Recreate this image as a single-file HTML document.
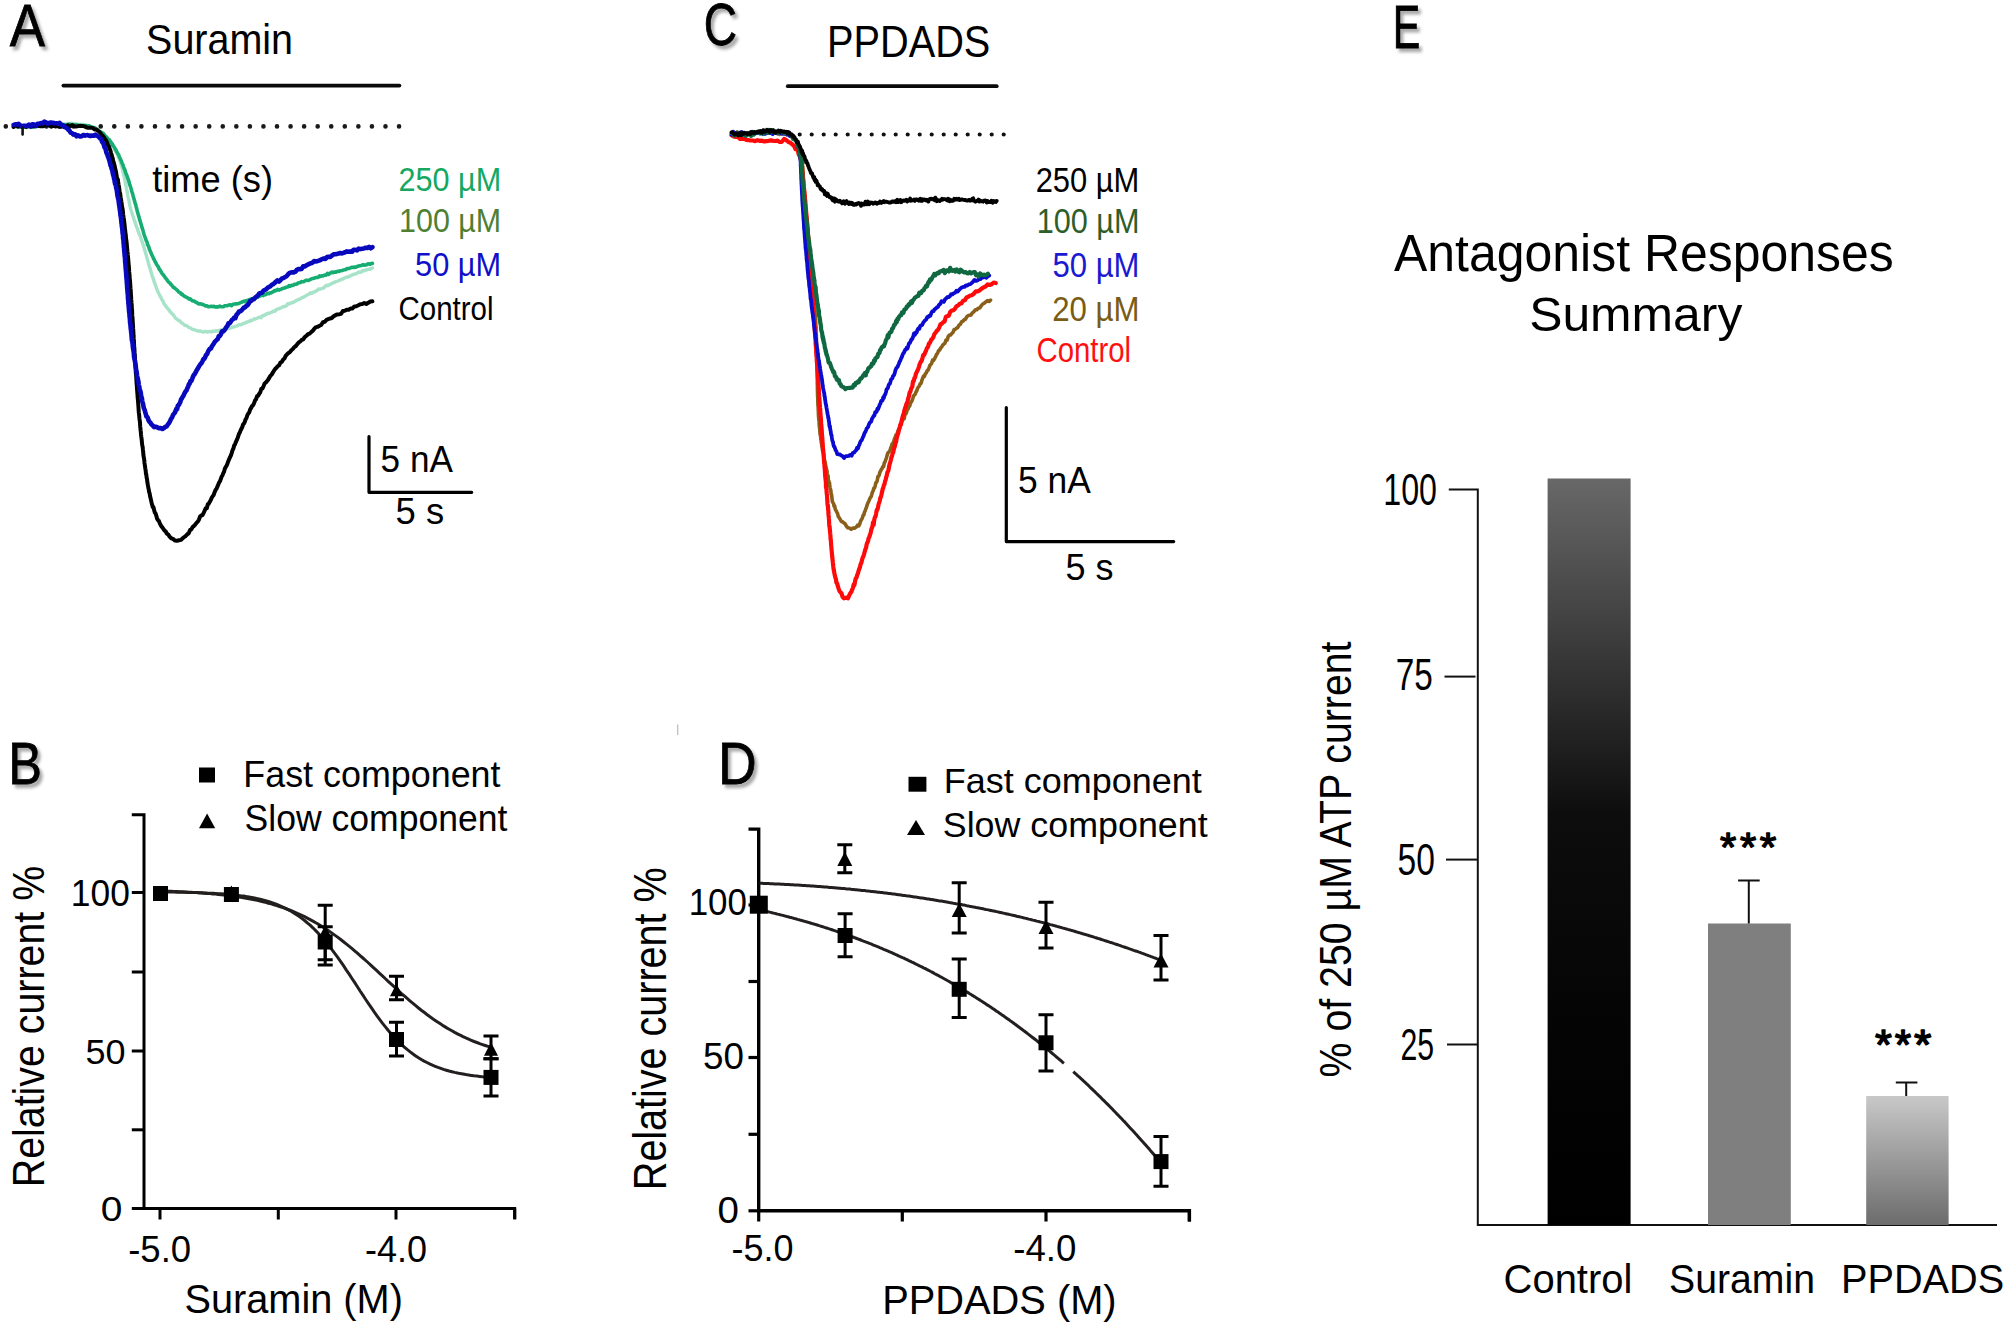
<!DOCTYPE html><html><head><meta charset="utf-8"><title>Antagonist responses figure</title>
<style>html,body{margin:0;padding:0;background:#fff;}svg{display:block;} text{font-family:"Liberation Sans", sans-serif;}</style></head><body>
<svg width="2007" height="1326" viewBox="0 0 2007 1326">
<defs><filter id="sh" x="-30%" y="-30%" width="160%" height="160%"><feDropShadow dx="3" dy="3.6" stdDeviation="1.6" flood-color="#000" flood-opacity="0.34"/></filter>
<linearGradient id="gc" x1="0" y1="0" x2="0" y2="1"><stop offset="0" stop-color="#686868"/><stop offset="0.45" stop-color="#0d0d0d"/><stop offset="0.7" stop-color="#050505"/><stop offset="1" stop-color="#000"/></linearGradient>
<linearGradient id="gp" x1="0" y1="0" x2="0" y2="1"><stop offset="0" stop-color="#c8c8c8"/><stop offset="1" stop-color="#6c6c6c"/></linearGradient>
</defs>
<rect width="2007" height="1326" fill="#fff"/>
<g filter="url(#sh)">
<text transform="translate(9.7,45.6) scale(0.8836,1)" font-size="59.74" fill="#000" stroke="#000" stroke-width="0.8">A</text>
</g>
<g filter="url(#sh)">
<text transform="translate(8.35,783.6) scale(0.8523,1)" font-size="59.3" fill="#000" stroke="#000" stroke-width="0.8">B</text>
</g>
<g filter="url(#sh)">
<text transform="translate(703.66,45.13) scale(0.7904,1)" font-size="58.33" fill="#000" stroke="#000" stroke-width="0.8">C</text>
</g>
<g filter="url(#sh)">
<text transform="translate(718.01,783.6) scale(0.8959,1)" font-size="59.74" fill="#000" stroke="#000" stroke-width="0.8">D</text>
</g>
<g filter="url(#sh)">
<text transform="translate(1392.71,48) scale(0.6835,1)" font-size="60.47" fill="#000" stroke="#000" stroke-width="0.8">E</text>
</g>
<text transform="translate(146.11,53.9) scale(0.9470,1)" font-size="41.68" fill="#000">Suramin</text>
<line x1="63.4" y1="85.6" x2="399.4" y2="85.6" stroke="#0a0a0a" stroke-width="3.8" stroke-linecap="round"/>
<line x1="5.8" y1="126.4" x2="399.5" y2="126.4" stroke="#1a1a1a" stroke-width="4.6" stroke-linecap="round" stroke-dasharray="0.01 13.55"/>
<text transform="translate(152.15,191.5) scale(0.9807,1)" font-size="36.99" fill="#000">time (s)</text>
<text transform="translate(398.46,190.7) scale(0.9022,1)" font-size="33.94" fill="#14a863">250 µM</text>
<text transform="translate(399.08,232.1) scale(0.9199,1)" font-size="33.08" fill="#4f7f33">100 µM</text>
<text transform="translate(415.07,276.2) scale(0.9068,1)" font-size="33.94" fill="#1010c8">50 µM</text>
<text transform="translate(398.5,319.6) scale(0.8689,1)" font-size="33.94" fill="#000">Control</text>
<path d="M369,436.5 V492.3 H471.7" fill="none" stroke="#000" stroke-width="3.2" stroke-linecap="round" stroke-linejoin="round"/>
<text transform="translate(380.59,472.4) scale(0.9592,1)" font-size="36.63" fill="#000">5 nA</text>
<text transform="translate(395.54,524.2) scale(0.9941,1)" font-size="36.63" fill="#000">5 s</text>
<path d="M13.6,126.0 L14.8,126.7 L16.1,126.8 L17.3,126.5 L18.6,126.7 L19.9,126.8 L21.1,127.2 L22.4,127.1 L23.7,127.4 L24.9,126.6 L26.2,127.7 L27.5,127.1 L28.7,127.3 L30.0,127.1 L31.3,126.9 L32.5,127.1 L33.8,127.1 L35.0,126.7 L36.3,126.7 L37.6,126.8 L38.8,126.2 L40.1,125.9 L41.4,126.4 L42.6,125.9 L43.9,125.4 L45.1,125.6 L46.4,125.6 L47.6,125.2 L48.9,125.0 L50.2,125.3 L51.4,125.4 L52.7,125.0 L53.9,124.7 L55.2,124.9 L56.5,124.9 L57.7,124.4 L59.0,124.6 L60.3,124.6 L61.5,124.1 L62.8,123.9 L64.0,124.1 L65.3,124.0 L66.6,124.2 L67.8,123.5 L69.1,123.6 L70.4,123.6 L71.6,123.3 L72.9,123.9 L74.2,124.0 L75.4,123.7 L76.7,124.4 L78.0,124.3 L79.2,124.4 L80.5,124.5 L81.7,124.8 L83.0,124.3 L84.2,125.1 L85.5,125.4 L86.7,125.0 L87.9,125.9 L89.1,126.1 L90.3,126.9 L91.5,126.9 L92.7,127.6 L93.8,128.2 L95.0,128.4 L96.1,129.5 L97.2,129.9 L98.2,130.7 L99.3,131.2 L100.3,132.4 L101.3,133.0 L102.3,133.6 L103.3,134.6 L104.2,135.7 L105.1,136.7 L106.0,136.6 L106.8,138.3 L107.7,139.1 L108.5,139.9 L109.3,140.6 L110.1,142.3 L110.8,142.6 L111.5,144.2 L112.2,145.5 L112.9,145.6 L113.6,147.1 L114.2,147.9 L114.8,149.5 L115.4,151.0 L116.0,152.3 L116.5,152.3 L117.1,153.8 L117.6,155.3 L118.1,156.8 L118.6,157.6 L119.0,158.4 L119.5,159.9 L119.9,161.0 L120.3,162.2 L120.7,163.2 L121.0,164.7 L121.4,165.9 L121.8,167.0 L122.1,168.2 L122.4,169.1 L122.7,170.6 L123.0,172.3 L123.3,173.1 L123.6,174.0 L123.9,176.1 L124.2,177.1 L124.4,178.8 L124.7,179.4 L125.0,180.5 L125.2,181.4 L125.5,183.5 L125.7,185.1 L125.9,185.3 L126.2,186.6 L126.4,188.3 L126.6,189.1 L126.9,190.5 L127.1,191.7 L127.4,193.1 L127.6,194.6 L127.8,195.6 L128.1,197.1 L128.3,197.9 L128.6,199.4 L128.8,199.9 L129.1,201.3 L129.4,203.2 L129.6,204.0 L129.9,205.6 L130.2,206.9 L130.5,208.3 L130.8,209.4 L131.2,210.7 L131.5,211.6 L131.8,212.6 L132.2,213.8 L132.6,215.1 L133.0,216.1 L133.4,217.5 L133.8,218.8 L134.2,220.1 L134.6,221.1 L135.0,221.9 L135.5,223.6 L135.9,224.9 L136.3,226.3 L136.8,227.4 L137.2,228.2 L137.7,229.3 L138.1,231.3 L138.6,232.1 L139.0,233.6 L139.5,234.9 L139.9,235.2 L140.4,236.8 L140.8,238.0 L141.2,239.2 L141.6,240.4 L142.0,241.5 L142.4,242.7 L142.8,243.4 L143.2,245.0 L143.6,246.0 L144.0,247.5 L144.3,248.5 L144.7,250.1 L145.1,251.4 L145.4,252.4 L145.8,253.6 L146.1,254.8 L146.5,255.9 L146.8,257.2 L147.1,258.3 L147.5,259.8 L147.8,260.9 L148.2,262.3 L148.5,262.9 L148.9,264.8 L149.2,265.5 L149.5,266.7 L149.9,268.1 L150.3,269.2 L150.6,270.7 L151.0,271.7 L151.3,272.7 L151.7,274.0 L152.1,275.9 L152.5,276.7 L152.9,277.5 L153.3,279.1 L153.7,279.8 L154.1,282.0 L154.5,282.2 L154.9,284.0 L155.4,285.2 L155.8,285.8 L156.3,287.5 L156.7,288.9 L157.2,289.9 L157.7,291.0 L158.2,292.4 L158.7,293.3 L159.3,294.5 L159.8,295.5 L160.4,296.9 L161.0,297.5 L161.6,299.2 L162.2,299.9 L162.8,300.8 L163.4,302.3 L164.1,303.8 L164.7,304.7 L165.4,305.3 L166.1,306.7 L166.9,307.4 L167.6,308.5 L168.4,309.6 L169.1,309.9 L169.9,311.6 L170.7,312.2 L171.6,313.3 L172.4,314.0 L173.3,314.9 L174.1,316.0 L175.0,317.4 L175.9,318.6 L176.9,318.9 L177.8,320.1 L178.8,320.5 L179.8,320.8 L180.8,322.2 L181.8,323.1 L182.8,323.6 L183.8,324.5 L184.9,325.3 L186.0,325.5 L187.1,325.9 L188.2,326.9 L189.3,327.5 L190.5,328.0 L191.6,328.9 L192.8,329.6 L194.0,329.4 L195.2,330.1 L196.4,330.5 L197.7,330.8 L198.9,331.1 L200.1,330.9 L201.4,331.5 L202.7,332.0 L203.9,331.8 L205.2,331.4 L206.4,331.8 L207.7,332.0 L209.0,331.7 L210.2,331.4 L211.5,332.0 L212.8,331.0 L214.0,331.4 L215.3,331.1 L216.5,330.6 L217.8,331.1 L219.0,330.6 L220.3,330.0 L221.5,330.2 L222.8,329.7 L224.0,328.9 L225.2,329.0 L226.5,329.0 L227.7,328.8 L228.9,328.3 L230.1,327.9 L231.3,327.7 L232.6,327.1 L233.8,327.1 L235.0,326.4 L236.2,326.1 L237.4,325.8 L238.6,324.9 L239.8,324.6 L241.0,324.8 L242.2,324.0 L243.4,323.4 L244.6,323.2 L245.7,322.5 L246.9,322.3 L248.1,321.6 L249.3,321.4 L250.5,320.4 L251.7,320.8 L252.8,319.8 L254.0,319.0 L255.2,319.0 L256.4,318.4 L257.5,318.1 L258.7,317.3 L259.9,317.2 L261.1,317.7 L262.2,315.7 L263.4,315.7 L264.6,315.0 L265.7,314.7 L266.9,313.6 L268.0,313.3 L269.2,313.3 L270.4,312.6 L271.5,312.6 L272.7,311.4 L273.8,311.1 L275.0,311.4 L276.1,309.8 L277.3,309.2 L278.4,308.9 L279.6,308.4 L280.7,308.1 L281.9,307.4 L283.0,306.6 L284.2,306.3 L285.3,306.5 L286.5,305.6 L287.6,303.8 L288.7,304.0 L289.9,303.3 L291.0,303.2 L292.2,302.4 L293.3,302.5 L294.5,301.6 L295.6,301.0 L296.7,300.3 L297.9,299.7 L299.0,299.2 L300.2,299.0 L301.3,298.2 L302.4,297.4 L303.6,297.3 L304.7,296.4 L305.9,295.8 L307.0,295.0 L308.1,294.5 L309.3,294.0 L310.4,292.8 L311.6,293.4 L312.7,292.7 L313.8,291.9 L315.0,291.7 L316.1,291.0 L317.3,290.4 L318.4,289.0 L319.6,289.2 L320.7,288.8 L321.8,288.6 L323.0,288.2 L324.1,287.5 L325.3,286.2 L326.4,285.3 L327.6,285.7 L328.7,285.0 L329.9,284.7 L331.1,283.9 L332.2,283.5 L333.4,282.4 L334.5,282.5 L335.7,281.7 L336.8,281.4 L338.0,281.0 L339.2,280.3 L340.3,279.9 L341.5,279.3 L342.7,279.1 L343.8,278.5 L345.0,277.7 L346.2,277.2 L347.4,277.4 L348.5,276.4 L349.7,276.3 L350.9,275.6 L352.1,274.9 L353.2,274.4 L354.4,274.2 L355.6,273.8 L356.8,273.5 L358.0,272.5 L359.2,272.2 L360.4,271.9 L361.6,272.0 L362.8,270.4 L364.0,270.9 L365.2,270.2 L366.4,270.0 L367.6,269.4 L368.8,269.2 L370.0,269.2 L371.2,268.5 L372.4,268.1" fill="none" stroke="#a6e3c8" stroke-width="3.4" stroke-linejoin="round" stroke-linecap="round"/>
<path d="M13.6,126.0 L14.8,126.4 L16.0,126.4 L17.1,126.5 L18.3,126.8 L19.5,126.0 L20.7,126.2 L21.9,126.0 L23.1,126.4 L24.3,126.7 L25.4,126.4 L26.6,126.6 L27.8,125.9 L29.0,126.5 L30.2,126.1 L31.4,126.9 L32.6,126.6 L33.7,126.6 L34.9,126.2 L36.1,126.4 L37.3,126.3 L38.5,126.0 L39.7,125.9 L40.9,125.9 L42.0,125.7 L43.2,125.6 L44.4,125.7 L45.6,125.5 L46.8,125.9 L48.0,125.1 L49.1,125.7 L50.3,125.2 L51.5,125.2 L52.7,124.9 L53.9,125.2 L55.1,125.1 L56.2,125.2 L57.4,124.9 L58.6,125.0 L59.8,125.5 L61.0,125.0 L62.2,124.7 L63.4,125.1 L64.5,124.7 L65.7,124.9 L66.9,124.9 L68.1,124.6 L69.3,124.1 L70.5,124.6 L71.7,124.8 L72.8,124.5 L74.0,124.8 L75.2,125.0 L76.4,124.6 L77.6,125.2 L78.8,125.3 L79.9,125.3 L81.1,125.4 L82.3,125.5 L83.5,126.0 L84.7,125.5 L85.8,125.6 L87.0,126.0 L88.2,125.8 L89.3,125.9 L90.4,126.5 L91.6,127.2 L92.7,127.6 L93.8,127.5 L94.9,127.8 L95.9,128.8 L97.0,129.4 L98.0,130.0 L99.0,130.9 L100.0,131.7 L101.0,132.1 L101.9,132.9 L102.9,133.1 L103.8,133.9 L104.6,135.1 L105.5,136.1 L106.3,136.9 L107.1,137.8 L107.9,138.7 L108.7,139.6 L109.4,139.8 L110.2,141.0 L110.9,142.3 L111.6,143.3 L112.2,143.7 L112.9,145.5 L113.5,146.0 L114.2,147.0 L114.8,148.2 L115.4,149.4 L116.0,149.7 L116.5,151.5 L117.1,152.3 L117.6,153.1 L118.2,154.3 L118.7,154.8 L119.2,156.3 L119.7,157.6 L120.2,158.5 L120.7,159.6 L121.1,160.8 L121.6,161.9 L122.1,163.3 L122.5,164.1 L123.0,165.1 L123.4,166.5 L123.9,168.0 L124.3,168.4 L124.7,169.8 L125.1,170.3 L125.5,172.3 L125.9,173.2 L126.3,174.5 L126.7,175.2 L127.1,176.0 L127.5,177.7 L127.9,178.8 L128.2,179.4 L128.6,180.4 L129.0,182.1 L129.3,183.0 L129.7,185.0 L130.0,185.2 L130.4,186.3 L130.7,187.6 L131.0,188.3 L131.4,189.6 L131.7,191.5 L132.0,192.1 L132.4,193.1 L132.7,194.1 L133.0,195.8 L133.4,196.9 L133.7,197.9 L134.0,198.9 L134.3,200.2 L134.6,201.4 L134.9,202.2 L135.3,203.8 L135.6,204.1 L135.9,205.5 L136.2,206.9 L136.5,208.1 L136.8,209.0 L137.1,210.5 L137.5,211.9 L137.8,212.9 L138.1,213.9 L138.4,215.3 L138.7,216.3 L139.0,217.0 L139.4,218.4 L139.7,220.0 L140.0,220.4 L140.3,221.9 L140.7,222.9 L141.0,223.9 L141.3,225.0 L141.7,226.4 L142.0,227.6 L142.4,228.8 L142.7,229.4 L143.1,230.9 L143.4,232.2 L143.8,233.5 L144.1,234.5 L144.5,235.7 L144.9,236.9 L145.3,238.0 L145.6,238.6 L146.0,240.0 L146.4,240.9 L146.8,241.5 L147.2,242.8 L147.6,245.0 L148.1,245.2 L148.5,246.0 L148.9,247.6 L149.4,249.3 L149.8,249.9 L150.3,251.2 L150.7,252.0 L151.2,253.2 L151.7,254.7 L152.2,255.6 L152.6,256.4 L153.2,257.8 L153.7,258.9 L154.2,259.6 L154.7,260.8 L155.3,261.9 L155.8,262.6 L156.4,264.2 L156.9,264.9 L157.5,265.8 L158.1,266.5 L158.7,267.6 L159.3,269.5 L160.0,269.7 L160.6,271.1 L161.2,271.9 L161.9,273.2 L162.6,274.2 L163.3,274.7 L164.0,275.8 L164.7,276.9 L165.4,277.8 L166.1,278.7 L166.8,279.6 L167.6,280.8 L168.4,281.9 L169.1,282.5 L169.9,283.0 L170.7,284.3 L171.6,285.0 L172.4,286.0 L173.2,287.2 L174.1,287.4 L174.9,288.3 L175.8,288.9 L176.7,289.8 L177.6,290.5 L178.5,291.9 L179.4,292.3 L180.3,292.8 L181.3,294.3 L182.2,294.0 L183.2,295.3 L184.2,296.1 L185.1,296.6 L186.1,297.0 L187.1,297.7 L188.1,298.2 L189.2,299.2 L190.2,298.8 L191.2,299.9 L192.3,300.7 L193.4,301.0 L194.4,301.1 L195.5,302.1 L196.6,302.4 L197.7,303.3 L198.8,303.9 L199.9,303.9 L201.0,303.7 L202.2,304.5 L203.3,304.6 L204.5,305.4 L205.6,306.0 L206.8,305.8 L207.9,306.6 L209.1,306.6 L210.3,306.5 L211.5,306.2 L212.7,306.6 L213.8,306.2 L215.0,307.0 L216.2,306.7 L217.4,307.1 L218.6,306.7 L219.8,306.0 L220.9,306.7 L222.1,306.7 L223.3,306.8 L224.5,305.8 L225.7,305.7 L226.8,305.8 L228.0,305.3 L229.2,305.0 L230.3,304.8 L231.5,305.7 L232.6,304.5 L233.8,304.1 L235.0,304.0 L236.1,303.8 L237.2,303.9 L238.4,303.5 L239.5,303.1 L240.7,302.5 L241.8,302.2 L242.9,301.6 L244.1,301.0 L245.2,301.7 L246.3,300.6 L247.5,300.7 L248.6,299.9 L249.7,299.6 L250.8,299.2 L252.0,298.5 L253.1,298.5 L254.2,298.3 L255.3,298.0 L256.5,297.5 L257.6,297.3 L258.7,296.7 L259.8,296.2 L260.9,295.3 L262.1,295.3 L263.2,295.6 L264.3,294.7 L265.4,294.6 L266.6,293.9 L267.7,293.4 L268.8,293.8 L269.9,292.9 L271.0,292.9 L272.2,292.2 L273.3,291.6 L274.4,290.6 L275.5,290.9 L276.7,290.0 L277.8,289.4 L278.9,290.1 L280.0,289.6 L281.2,289.2 L282.3,288.6 L283.4,288.2 L284.5,288.0 L285.6,287.5 L286.8,287.1 L287.9,286.9 L289.0,285.6 L290.1,286.2 L291.3,285.4 L292.4,285.5 L293.5,285.2 L294.6,284.2 L295.8,284.3 L296.9,284.0 L298.0,283.1 L299.2,282.8 L300.3,282.6 L301.4,281.6 L302.5,281.7 L303.7,281.6 L304.8,281.0 L305.9,280.3 L307.1,280.3 L308.2,280.5 L309.3,280.1 L310.5,279.3 L311.6,278.8 L312.7,278.6 L313.8,278.3 L315.0,277.8 L316.1,277.5 L317.2,277.5 L318.4,277.2 L319.5,275.8 L320.7,276.5 L321.8,275.9 L322.9,275.9 L324.1,275.2 L325.2,275.0 L326.3,275.1 L327.5,273.3 L328.6,274.4 L329.8,273.6 L330.9,272.7 L332.0,272.1 L333.2,272.7 L334.3,272.0 L335.5,272.3 L336.6,271.7 L337.8,271.3 L338.9,271.4 L340.1,270.8 L341.2,270.7 L342.4,270.4 L343.5,270.0 L344.6,269.8 L345.8,269.5 L346.9,268.6 L348.1,268.6 L349.2,268.4 L350.4,268.0 L351.6,267.4 L352.7,267.4 L353.9,267.4 L355.0,267.1 L356.2,267.2 L357.3,266.3 L358.5,266.1 L359.6,265.8 L360.8,265.6 L362.0,265.3 L363.1,264.6 L364.3,265.1 L365.4,265.0 L366.6,264.8 L367.8,263.9 L368.9,263.9 L370.1,264.3 L371.2,263.5 L372.4,263.4" fill="none" stroke="#17ad72" stroke-width="3.6" stroke-linejoin="round" stroke-linecap="round"/>
<path d="M13.6,126.9 L15.7,124.5 L17.8,126.5 L19.9,126.1 L21.9,126.7 L24.0,126.2 L26.1,127.0 L28.2,126.1 L30.3,125.8 L32.4,126.3 L34.5,126.2 L36.5,125.8 L38.6,125.8 L40.7,126.3 L42.8,126.3 L44.9,125.7 L47.0,125.7 L49.1,125.0 L51.2,126.7 L53.2,125.7 L55.3,126.5 L57.4,126.0 L59.5,126.8 L61.6,126.6 L63.7,126.0 L65.8,126.6 L67.8,125.3 L69.9,126.5 L72.0,125.1 L74.1,126.1 L76.2,126.5 L78.3,126.1 L80.4,126.0 L82.4,125.9 L84.5,126.4 L86.6,127.4 L88.6,127.7 L90.6,127.7 L92.6,127.8 L94.6,129.5 L96.4,129.4 L98.2,131.0 L99.8,132.2 L101.3,134.4 L102.7,135.7 L104.0,137.4 L105.2,139.1 L106.2,140.4 L107.2,142.8 L108.1,145.2 L108.9,146.4 L109.6,148.7 L110.3,150.2 L111.0,152.8 L111.6,154.6 L112.1,156.7 L112.7,158.5 L113.2,161.2 L113.7,162.2 L114.2,164.2 L114.7,166.1 L115.2,168.8 L115.6,170.2 L116.1,172.2 L116.5,174.9 L116.9,177.2 L117.3,178.9 L117.8,179.3 L118.2,182.3 L118.5,184.3 L118.9,186.2 L119.3,188.7 L119.6,191.9 L120.0,192.9 L120.3,194.7 L120.7,197.5 L121.0,199.2 L121.3,201.3 L121.6,203.0 L121.9,205.4 L122.2,207.7 L122.5,208.5 L122.8,210.8 L123.1,214.2 L123.4,216.1 L123.6,217.5 L123.9,219.3 L124.2,221.8 L124.4,223.4 L124.7,225.9 L124.9,228.9 L125.2,230.3 L125.4,232.9 L125.7,234.2 L125.9,236.6 L126.1,239.2 L126.3,239.9 L126.6,242.5 L126.8,244.6 L127.0,246.9 L127.2,249.6 L127.4,251.3 L127.6,252.3 L127.8,255.0 L128.0,256.7 L128.2,258.8 L128.4,262.3 L128.5,262.9 L128.7,265.6 L128.9,267.2 L129.1,270.1 L129.2,271.9 L129.4,273.9 L129.6,275.8 L129.7,278.5 L129.9,279.6 L130.1,281.8 L130.2,283.6 L130.4,286.9 L130.5,288.2 L130.7,289.9 L130.8,292.3 L131.0,295.9 L131.1,296.6 L131.2,299.2 L131.4,301.1 L131.5,302.9 L131.7,304.7 L131.8,306.9 L131.9,309.0 L132.1,310.2 L132.2,314.6 L132.3,315.9 L132.5,317.6 L132.6,319.5 L132.7,321.3 L132.9,324.2 L133.0,325.7 L133.1,328.2 L133.2,329.3 L133.4,332.3 L133.5,335.2 L133.6,336.1 L133.7,338.7 L133.9,340.4 L134.0,343.0 L134.1,345.1 L134.2,346.7 L134.4,348.5 L134.5,351.0 L134.6,352.9 L134.8,354.7 L134.9,357.3 L135.0,359.4 L135.1,360.8 L135.3,363.3 L135.4,366.9 L135.6,367.9 L135.7,369.6 L135.8,372.9 L136.0,373.5 L136.1,374.6 L136.2,376.9 L136.4,379.2 L136.5,382.2 L136.7,384.6 L136.8,385.1 L137.0,388.9 L137.1,389.8 L137.3,392.6 L137.5,394.8 L137.6,396.8 L137.8,398.7 L138.0,400.9 L138.1,402.3 L138.3,405.1 L138.5,407.5 L138.6,409.6 L138.8,412.5 L139.0,413.8 L139.2,415.7 L139.4,418.2 L139.6,419.6 L139.8,420.9 L140.0,422.5 L140.2,426.4 L140.4,428.1 L140.6,430.3 L140.8,431.8 L141.0,434.2 L141.3,437.0 L141.5,438.3 L141.7,439.7 L141.9,442.1 L142.2,445.1 L142.4,445.9 L142.7,447.2 L142.9,449.5 L143.2,452.0 L143.4,455.1 L143.7,456.9 L144.0,458.5 L144.3,460.3 L144.5,463.0 L144.8,465.0 L145.1,466.9 L145.4,469.1 L145.7,470.9 L146.0,474.2 L146.3,474.2 L146.6,477.5 L147.0,479.0 L147.3,481.9 L147.6,483.5 L148.0,485.9 L148.4,488.0 L148.8,489.9 L149.2,492.3 L149.6,493.2 L150.1,496.4 L150.5,497.8 L151.0,500.2 L151.6,502.8 L152.1,504.6 L152.7,507.0 L153.4,506.9 L154.0,509.5 L154.7,512.4 L155.5,513.3 L156.3,515.7 L157.1,518.6 L158.0,520.1 L158.9,521.0 L159.9,523.6 L160.9,525.5 L162.0,527.0 L163.2,528.6 L164.4,530.4 L165.6,531.3 L166.9,533.7 L168.3,534.7 L169.8,536.9 L171.3,538.3 L173.0,538.9 L174.9,540.5 L176.9,540.8 L179.0,540.3 L180.9,539.9 L182.7,538.3 L184.3,537.0 L185.9,535.8 L187.3,534.2 L188.7,533.3 L190.1,529.9 L191.4,529.4 L192.7,526.9 L194.0,526.0 L195.2,524.7 L196.5,522.9 L197.7,521.7 L198.9,519.7 L200.1,516.4 L201.3,515.5 L202.4,515.1 L203.5,513.3 L204.6,510.8 L205.7,508.2 L206.8,508.3 L207.8,504.3 L208.8,503.7 L209.8,501.7 L210.8,500.0 L211.8,497.5 L212.8,496.0 L213.7,494.9 L214.6,492.2 L215.6,489.9 L216.5,488.7 L217.3,486.9 L218.2,484.8 L219.1,482.6 L219.9,481.4 L220.8,479.1 L221.6,476.7 L222.4,475.5 L223.2,473.4 L224.1,471.6 L224.8,468.7 L225.6,467.3 L226.4,466.0 L227.2,464.3 L228.0,462.0 L228.8,460.0 L229.5,458.4 L230.3,456.6 L231.1,455.0 L231.9,452.4 L232.6,450.0 L233.4,448.6 L234.2,445.4 L235.0,444.5 L235.7,442.3 L236.5,440.6 L237.3,438.9 L238.1,436.8 L238.9,434.1 L239.7,432.7 L240.5,430.6 L241.3,429.0 L242.2,427.3 L243.0,424.7 L243.9,423.7 L244.7,422.1 L245.6,419.4 L246.5,418.0 L247.4,415.0 L248.3,413.6 L249.2,412.5 L250.2,409.3 L251.1,408.0 L252.1,406.0 L253.1,405.2 L254.0,403.3 L255.0,400.6 L256.1,399.2 L257.1,396.0 L258.1,395.9 L259.2,393.8 L260.2,392.5 L261.3,388.9 L262.4,388.5 L263.5,386.4 L264.6,383.5 L265.7,382.7 L266.9,381.2 L268.0,379.9 L269.2,377.9 L270.4,375.8 L271.6,374.6 L272.8,372.6 L274.0,370.7 L275.3,368.8 L276.5,367.7 L277.8,366.1 L279.1,365.3 L280.4,362.5 L281.7,361.9 L283.0,359.7 L284.4,358.5 L285.7,355.9 L287.1,354.3 L288.5,353.0 L289.9,352.1 L291.3,350.2 L292.8,349.0 L294.2,347.3 L295.7,346.1 L297.2,344.3 L298.7,342.4 L300.2,341.5 L301.7,339.9 L303.2,339.3 L304.8,337.0 L306.4,335.7 L308.0,334.2 L309.6,333.6 L311.2,332.1 L312.8,330.7 L314.5,328.5 L316.1,327.1 L317.8,326.8 L319.5,325.8 L321.2,325.0 L323.0,322.2 L324.7,321.8 L326.5,319.9 L328.2,319.2 L330.0,318.5 L331.8,318.0 L333.6,316.3 L335.5,315.2 L337.3,314.4 L339.2,314.2 L341.0,313.9 L342.9,311.0 L344.8,310.7 L346.7,309.8 L348.6,309.8 L350.5,308.6 L352.5,308.4 L354.4,306.4 L356.4,306.2 L358.4,305.3 L360.3,304.3 L362.3,304.1 L364.3,303.0 L366.3,304.1 L368.4,302.7 L370.4,301.5 L372.4,301.2" fill="none" stroke="#000" stroke-width="4" stroke-linejoin="round" stroke-linecap="round"/>
<path d="M13.6,124.9 L15.2,124.4 L16.9,124.4 L18.6,123.8 L20.4,125.5 L22.1,126.5 L23.8,125.7 L25.5,125.8 L27.2,126.0 L29.0,124.6 L30.7,126.5 L32.4,124.2 L34.1,124.6 L35.8,125.8 L37.5,123.8 L39.2,123.7 L40.9,123.1 L42.6,123.4 L44.3,121.7 L46.0,122.4 L47.7,123.7 L49.5,122.7 L51.2,122.5 L52.9,122.9 L54.6,123.1 L56.3,123.2 L58.0,123.8 L59.7,122.9 L61.3,124.9 L62.8,125.0 L64.2,126.8 L65.6,127.4 L66.8,128.0 L68.1,129.7 L69.3,130.4 L70.6,132.7 L72.0,133.2 L73.4,134.6 L75.0,134.2 L76.6,136.3 L78.3,135.4 L80.1,136.5 L81.8,136.2 L83.5,135.0 L85.2,135.7 L86.9,135.1 L88.7,135.5 L90.4,136.0 L92.1,135.5 L93.8,135.8 L95.5,134.6 L97.2,135.9 L98.7,136.8 L100.0,138.4 L101.0,138.8 L101.8,141.0 L102.5,142.5 L103.2,142.9 L103.8,144.8 L104.5,147.3 L105.1,147.9 L105.7,149.5 L106.3,152.4 L106.9,153.7 L107.5,155.0 L108.0,156.8 L108.6,158.1 L109.1,159.7 L109.6,161.4 L110.1,163.6 L110.6,165.8 L111.1,166.4 L111.5,168.3 L112.0,169.8 L112.4,170.9 L112.8,173.4 L113.3,175.5 L113.7,176.1 L114.1,178.8 L114.4,179.7 L114.8,182.4 L115.2,184.1 L115.6,184.8 L115.9,185.5 L116.2,188.2 L116.6,189.3 L116.9,191.0 L117.2,193.4 L117.5,196.0 L117.8,196.8 L118.1,198.5 L118.4,199.2 L118.7,201.6 L118.9,202.9 L119.2,205.7 L119.5,206.8 L119.7,208.8 L119.9,210.5 L120.2,212.1 L120.4,214.5 L120.6,215.9 L120.9,217.2 L121.1,219.2 L121.3,221.1 L121.5,223.3 L121.7,224.3 L121.9,226.8 L122.1,227.3 L122.3,229.2 L122.4,230.2 L122.6,233.3 L122.8,233.9 L123.0,235.6 L123.1,238.4 L123.3,239.3 L123.5,240.9 L123.6,243.6 L123.8,244.7 L123.9,247.0 L124.1,248.0 L124.2,250.4 L124.4,252.3 L124.5,253.4 L124.7,256.2 L124.8,256.6 L125.0,258.4 L125.1,260.3 L125.2,262.6 L125.4,263.5 L125.5,265.1 L125.6,267.3 L125.8,269.6 L125.9,270.3 L126.0,271.5 L126.2,273.9 L126.3,276.1 L126.4,277.1 L126.6,279.2 L126.7,279.7 L126.8,282.6 L127.0,284.4 L127.1,286.4 L127.2,287.9 L127.4,289.9 L127.5,290.6 L127.6,293.3 L127.8,293.6 L127.9,296.0 L128.0,298.7 L128.2,300.3 L128.3,300.4 L128.4,303.5 L128.6,304.7 L128.7,306.2 L128.9,308.5 L129.0,310.1 L129.2,312.6 L129.3,312.6 L129.5,315.0 L129.6,316.8 L129.8,317.5 L130.0,321.1 L130.1,323.1 L130.3,323.4 L130.5,325.7 L130.6,327.1 L130.8,329.1 L131.0,330.2 L131.2,332.9 L131.4,333.4 L131.6,336.6 L131.7,337.7 L131.9,340.7 L132.1,339.9 L132.4,342.6 L132.6,343.6 L132.8,346.0 L133.0,348.0 L133.2,348.9 L133.4,350.3 L133.7,351.9 L133.9,354.7 L134.1,357.1 L134.4,358.7 L134.6,359.7 L134.9,360.9 L135.2,362.9 L135.4,363.9 L135.7,365.6 L136.0,368.9 L136.2,369.8 L136.5,371.8 L136.8,373.2 L137.1,375.8 L137.4,377.6 L137.7,378.0 L138.0,379.9 L138.4,381.4 L138.7,384.3 L139.0,386.0 L139.3,386.7 L139.7,390.0 L140.0,390.3 L140.4,391.2 L140.7,392.4 L141.1,395.2 L141.5,397.2 L141.9,398.3 L142.2,400.6 L142.6,402.8 L143.0,403.7 L143.4,405.9 L143.8,408.1 L144.3,409.0 L144.7,410.1 L145.2,412.3 L145.8,414.0 L146.4,416.6 L147.0,416.7 L147.7,417.6 L148.5,420.2 L149.4,421.7 L150.4,422.6 L151.5,424.5 L152.8,425.6 L154.2,427.1 L155.7,426.7 L157.3,427.4 L159.0,428.3 L160.7,428.1 L162.4,429.0 L164.0,428.0 L165.4,426.7 L166.7,426.5 L167.8,424.5 L168.8,423.4 L169.7,421.9 L170.6,419.8 L171.5,418.3 L172.3,416.9 L173.1,414.7 L174.0,413.7 L174.8,412.8 L175.6,411.0 L176.4,408.7 L177.1,409.2 L177.9,405.6 L178.7,405.0 L179.5,403.6 L180.2,402.4 L181.0,399.5 L181.8,398.5 L182.6,396.9 L183.3,396.1 L184.1,394.1 L184.9,392.6 L185.7,391.2 L186.5,390.5 L187.3,388.2 L188.1,386.8 L188.9,384.2 L189.7,383.6 L190.5,381.0 L191.4,380.8 L192.2,378.8 L193.0,376.6 L193.8,375.0 L194.7,374.1 L195.5,372.7 L196.4,370.8 L197.2,369.5 L198.1,368.0 L199.0,366.4 L199.8,365.1 L200.7,363.9 L201.6,363.0 L202.5,361.2 L203.4,359.0 L204.3,358.8 L205.2,357.1 L206.1,354.8 L207.1,354.1 L208.0,351.7 L208.9,350.1 L209.9,348.7 L210.9,348.7 L211.8,346.4 L212.8,345.1 L213.8,343.5 L214.8,341.8 L215.8,340.9 L216.8,339.7 L217.8,339.1 L218.8,336.0 L219.9,336.0 L220.9,334.1 L222.0,331.3 L223.0,331.6 L224.1,330.6 L225.2,329.0 L226.3,327.2 L227.4,325.8 L228.5,323.2 L229.6,323.3 L230.7,321.9 L231.9,319.9 L233.0,319.3 L234.2,317.5 L235.4,318.0 L236.5,314.7 L237.7,313.6 L238.9,311.6 L240.1,311.4 L241.4,310.5 L242.6,309.2 L243.8,307.6 L245.1,307.4 L246.3,305.8 L247.6,305.2 L248.9,303.2 L250.1,301.1 L251.4,300.9 L252.7,299.3 L254.0,299.3 L255.4,297.3 L256.7,296.4 L258.0,295.4 L259.4,293.4 L260.7,293.0 L262.1,292.7 L263.4,290.8 L264.8,290.0 L266.2,289.2 L267.6,287.7 L269.0,286.9 L270.4,286.3 L271.8,284.8 L273.2,284.1 L274.6,283.0 L276.1,281.5 L277.5,280.4 L279.0,281.5 L280.4,280.2 L281.9,278.4 L283.4,278.1 L284.8,277.3 L286.3,276.4 L287.8,274.7 L289.3,273.2 L290.8,272.5 L292.3,272.2 L293.8,272.4 L295.4,271.7 L296.9,269.8 L298.4,269.0 L300.0,269.1 L301.5,268.9 L303.1,266.4 L304.6,266.5 L306.2,265.5 L307.8,264.6 L309.3,263.9 L310.9,263.2 L312.5,262.7 L314.1,261.1 L315.7,261.4 L317.3,261.2 L318.9,260.6 L320.5,260.0 L322.1,259.1 L323.8,258.5 L325.4,258.9 L327.0,257.1 L328.6,256.8 L330.3,256.9 L331.9,255.7 L333.6,254.4 L335.2,254.3 L336.9,253.9 L338.5,253.6 L340.2,253.0 L341.9,253.4 L343.6,252.8 L345.2,252.3 L346.9,251.4 L348.6,251.8 L350.3,251.4 L352.0,251.8 L353.6,249.8 L355.3,249.8 L357.0,250.4 L358.7,248.6 L360.4,249.1 L362.1,248.8 L363.8,248.5 L365.6,247.7 L367.3,248.0 L369.0,246.9 L370.7,248.3 L372.4,247.1" fill="none" stroke="#0808bc" stroke-width="4.6" stroke-linejoin="round" stroke-linecap="round"/>
<line x1="22.6" y1="127.5" x2="22.6" y2="134.5" stroke="#111" stroke-width="2.6" stroke-linecap="round"/>
<text transform="translate(826.94,57) scale(0.9148,1)" font-size="43.46" fill="#000">PPDADS</text>
<line x1="787.8" y1="86.2" x2="996.7" y2="86.2" stroke="#0a0a0a" stroke-width="3.8" stroke-linecap="round"/>
<line x1="799.7" y1="134.5" x2="1004" y2="134.5" stroke="#111" stroke-width="4.2" stroke-linecap="round" stroke-dasharray="0.01 11.99"/>
<text transform="translate(1035.64,191.6) scale(0.8888,1)" font-size="34.8" fill="#000">250 µM</text>
<text transform="translate(1036.67,232.9) scale(0.8955,1)" font-size="34.23" fill="#2e5e2a">100 µM</text>
<text transform="translate(1052.45,276.6) scale(0.8940,1)" font-size="34.8" fill="#1a1ad2">50 µM</text>
<text transform="translate(1052.13,320.8) scale(0.8975,1)" font-size="34.8" fill="#7a5c14">20 µM</text>
<text transform="translate(1036.51,361.5) scale(0.8463,1)" font-size="34.66" fill="#ff1010">Control</text>
<path d="M1006.3,407.5 V541.6 H1173.7" fill="none" stroke="#000" stroke-width="3.2" stroke-linecap="round" stroke-linejoin="round"/>
<text transform="translate(1017.98,493.1) scale(0.9584,1)" font-size="36.92" fill="#000">5 nA</text>
<text transform="translate(1065.56,579.6) scale(0.9991,1)" font-size="36.05" fill="#000">5 s</text>
<path d="M731.6,133.6 L733.5,133.2 L735.3,133.3 L737.2,131.9 L739.0,134.9 L740.9,134.4 L742.7,133.3 L744.6,134.0 L746.4,133.6 L748.3,133.0 L750.1,134.0 L752.0,133.0 L753.8,132.9 L755.7,132.5 L757.5,133.3 L759.4,132.8 L761.2,133.2 L763.1,132.3 L764.9,132.8 L766.8,132.0 L768.6,133.2 L770.5,132.8 L772.3,132.8 L774.2,132.9 L776.1,132.0 L777.9,133.3 L779.7,134.4 L781.6,132.0 L783.4,132.2 L785.2,132.7 L787.0,134.8 L788.8,134.9 L790.5,136.3 L792.1,137.0 L793.5,137.8 L794.9,139.1 L796.1,140.2 L797.1,142.5 L798.0,142.7 L798.8,144.9 L799.5,147.1 L800.0,149.9 L800.5,149.9 L800.9,151.5 L801.3,153.7 L801.6,156.6 L801.8,157.6 L802.1,160.5 L802.2,160.1 L802.4,164.1 L802.5,165.8 L802.7,166.0 L802.8,168.9 L802.9,171.5 L803.0,172.6 L803.1,175.1 L803.2,177.9 L803.3,178.3 L803.4,179.7 L803.5,181.2 L803.6,184.1 L803.8,185.3 L803.9,187.2 L804.0,189.1 L804.1,191.5 L804.3,192.1 L804.4,193.6 L804.5,194.8 L804.7,199.2 L804.8,200.3 L805.0,203.2 L805.1,203.9 L805.3,205.3 L805.4,208.0 L805.6,209.4 L805.7,210.4 L805.9,212.6 L806.1,216.3 L806.2,217.1 L806.4,219.0 L806.6,220.4 L806.7,221.9 L806.9,224.9 L807.1,226.0 L807.3,227.4 L807.4,229.7 L807.6,231.0 L807.8,233.6 L808.0,236.1 L808.1,236.6 L808.3,240.0 L808.5,240.4 L808.7,242.8 L808.9,243.9 L809.1,246.2 L809.3,248.3 L809.4,249.8 L809.6,251.4 L809.8,253.3 L810.0,255.0 L810.2,256.3 L810.4,259.1 L810.5,261.4 L810.7,263.6 L810.9,265.3 L811.1,268.4 L811.3,268.7 L811.5,270.0 L811.6,273.5 L811.8,273.3 L812.0,276.6 L812.2,277.1 L812.3,279.8 L812.5,280.0 L812.7,283.9 L812.9,285.0 L813.0,286.3 L813.2,290.0 L813.4,291.2 L813.5,292.5 L813.7,293.8 L813.8,296.1 L814.0,297.9 L814.1,300.4 L814.3,302.3 L814.4,303.1 L814.6,305.0 L814.7,306.9 L814.8,308.2 L815.0,310.5 L815.1,312.7 L815.2,315.1 L815.3,317.4 L815.4,317.8 L815.6,320.6 L815.7,321.7 L815.8,325.4 L815.9,325.7 L816.0,328.0 L816.1,328.8 L816.1,330.7 L816.2,333.3 L816.3,334.7 L816.4,337.1 L816.4,337.6 L816.5,341.0 L816.6,341.8 L816.6,345.5 L816.7,345.9 L816.7,348.7 L816.8,348.8 L816.8,352.0 L816.8,352.9 L816.9,355.0 L816.9,357.2 L816.9,358.9 L817.0,361.1 L817.0,363.3 L817.0,365.1 L817.1,366.4 L817.1,367.4 L817.1,369.6 L817.1,371.9 L817.2,372.4 L817.2,376.3 L817.2,377.4 L817.3,379.3 L817.3,382.0 L817.3,383.6 L817.4,385.2 L817.4,386.2 L817.4,388.9 L817.5,390.8 L817.5,391.8 L817.6,395.0 L817.6,396.5 L817.7,396.6 L817.8,399.9 L817.8,400.8 L817.9,404.3 L818.0,406.0 L818.1,406.5 L818.2,408.5 L818.3,411.0 L818.4,412.6 L818.5,415.7 L818.6,417.0 L818.7,418.1 L818.9,420.6 L819.0,420.6 L819.2,424.1 L819.3,426.3 L819.5,427.4 L819.7,428.9 L819.9,431.7 L820.1,434.5 L820.3,435.1 L820.6,436.0 L820.8,439.6 L821.1,439.1 L821.3,442.6 L821.6,443.7 L821.9,446.6 L822.2,447.2 L822.5,450.5 L822.9,451.6 L823.2,452.0 L823.6,453.7 L823.9,456.7 L824.3,459.6 L824.7,460.6 L825.1,462.4 L825.4,464.0 L825.8,466.5 L826.2,468.0 L826.6,469.8 L827.0,470.7 L827.3,474.0 L827.7,476.0 L828.1,475.9 L828.4,480.3 L828.8,481.0 L829.1,481.9 L829.5,482.8 L829.8,486.4 L830.1,488.1 L830.4,489.2 L830.8,490.2 L831.1,494.0 L831.5,494.6 L831.8,496.5 L832.2,500.7 L832.6,502.0 L833.1,502.9 L833.6,503.7 L834.1,506.3 L834.7,506.0 L835.3,509.4 L836.0,510.5 L836.7,511.9 L837.5,513.4 L838.3,516.5 L839.2,517.8 L840.2,519.4 L841.3,521.4 L842.4,521.7 L843.7,522.8 L845.0,523.7 L846.3,526.0 L847.8,527.8 L849.5,528.1 L851.2,529.3 L853.0,528.1 L854.8,528.1 L856.4,526.9 L857.7,525.2 L858.8,525.9 L859.8,523.7 L860.7,520.9 L861.6,519.3 L862.3,518.1 L863.1,515.4 L863.8,515.0 L864.5,512.1 L865.1,511.0 L865.8,508.8 L866.4,507.5 L867.1,505.1 L867.8,503.2 L868.4,501.9 L869.1,500.4 L869.7,498.9 L870.4,497.5 L871.1,496.8 L871.8,494.5 L872.4,492.1 L873.1,491.0 L873.8,488.3 L874.5,488.1 L875.2,485.7 L875.9,482.7 L876.5,482.4 L877.2,480.8 L877.9,476.6 L878.6,476.2 L879.3,474.7 L880.0,472.0 L880.7,470.9 L881.4,469.2 L882.1,468.5 L882.8,466.7 L883.6,466.6 L884.3,462.8 L885.0,462.1 L885.7,459.7 L886.4,458.1 L887.1,455.4 L887.8,453.2 L888.6,452.3 L889.3,451.6 L890.0,450.5 L890.7,448.1 L891.5,446.3 L892.2,443.7 L892.9,443.6 L893.7,441.8 L894.4,438.8 L895.2,437.4 L895.9,435.1 L896.6,435.1 L897.4,432.7 L898.1,430.6 L898.9,429.3 L899.6,427.6 L900.4,425.3 L901.2,423.1 L901.9,421.3 L902.7,419.3 L903.4,419.2 L904.2,418.7 L905.0,414.3 L905.8,413.9 L906.5,412.4 L907.3,409.7 L908.1,408.9 L908.9,406.3 L909.7,406.2 L910.4,403.3 L911.2,402.1 L912.0,400.8 L912.8,398.4 L913.6,395.8 L914.4,395.0 L915.2,394.2 L916.0,392.0 L916.9,390.5 L917.7,387.9 L918.5,387.1 L919.3,385.9 L920.2,383.7 L921.0,383.4 L921.9,380.3 L922.7,378.1 L923.6,376.0 L924.4,376.3 L925.3,373.8 L926.2,373.0 L927.1,370.9 L928.0,370.1 L928.9,368.3 L929.8,365.5 L930.8,364.4 L931.7,363.3 L932.6,360.1 L933.6,360.4 L934.6,358.7 L935.5,356.9 L936.5,354.5 L937.5,353.3 L938.5,350.8 L939.6,350.1 L940.6,348.1 L941.7,347.0 L942.7,345.1 L943.8,344.1 L944.9,343.3 L946.0,340.0 L947.1,340.1 L948.2,336.6 L949.4,335.0 L950.5,335.0 L951.7,333.6 L952.9,332.5 L954.1,329.6 L955.3,329.4 L956.5,328.1 L957.8,327.5 L959.0,325.2 L960.3,324.3 L961.6,321.9 L962.9,321.2 L964.2,319.7 L965.5,319.2 L966.9,316.7 L968.3,315.6 L969.6,315.3 L971.0,315.0 L972.4,312.8 L973.9,311.6 L975.3,309.9 L976.8,309.8 L978.2,308.3 L979.7,308.0 L981.2,305.9 L982.7,304.0 L984.3,303.2 L985.8,301.9 L987.4,300.7 L988.9,301.5 L990.5,300.2" fill="none" stroke="#8a5f1a" stroke-width="3.6" stroke-linejoin="round" stroke-linecap="round"/>
<path d="M731.6,135.3 L733.6,136.5 L735.7,137.0 L737.8,136.4 L739.9,138.8 L742.1,139.0 L744.2,138.7 L746.4,140.0 L748.6,140.2 L750.8,140.5 L753.0,140.5 L755.2,141.1 L757.5,140.2 L759.7,140.8 L761.9,140.6 L764.1,141.5 L766.3,141.1 L768.6,140.8 L770.8,140.4 L773.0,140.8 L775.2,141.0 L777.4,140.7 L779.7,142.0 L781.9,141.8 L784.1,139.0 L786.3,140.1 L788.4,142.0 L790.4,142.7 L792.3,144.4 L794.0,145.9 L795.5,149.0 L796.8,148.3 L797.9,150.8 L798.8,154.8 L799.6,155.7 L800.2,157.9 L800.7,159.1 L801.2,160.4 L801.5,164.0 L801.8,166.2 L802.1,167.3 L802.3,169.9 L802.6,172.6 L802.8,174.1 L803.0,177.0 L803.2,179.4 L803.4,181.6 L803.6,183.3 L803.8,186.4 L804.1,188.9 L804.3,190.6 L804.5,191.9 L804.7,195.4 L804.9,196.6 L805.1,199.9 L805.3,200.6 L805.5,204.4 L805.7,205.9 L805.8,207.1 L806.0,210.0 L806.2,212.6 L806.4,214.9 L806.6,216.2 L806.8,218.3 L807.0,221.5 L807.2,223.2 L807.3,226.0 L807.5,228.6 L807.7,228.9 L807.9,232.6 L808.1,235.6 L808.2,236.6 L808.4,238.4 L808.6,241.9 L808.7,243.7 L808.9,246.4 L809.1,247.7 L809.3,249.0 L809.4,252.3 L809.6,254.2 L809.8,257.4 L809.9,259.2 L810.1,259.9 L810.2,262.5 L810.4,266.4 L810.6,268.4 L810.7,269.6 L810.9,272.3 L811.0,274.9 L811.2,277.1 L811.4,279.7 L811.5,281.4 L811.7,283.3 L811.8,285.4 L812.0,288.7 L812.1,288.2 L812.3,292.2 L812.4,294.5 L812.6,295.6 L812.7,299.2 L812.9,300.6 L813.0,304.0 L813.2,305.5 L813.3,308.3 L813.5,311.0 L813.6,312.5 L813.8,313.7 L813.9,315.4 L814.1,320.3 L814.2,321.0 L814.3,322.7 L814.5,325.6 L814.6,327.6 L814.8,330.6 L814.9,332.2 L815.1,334.4 L815.2,336.0 L815.4,339.2 L815.5,340.2 L815.7,343.8 L815.8,346.7 L815.9,346.5 L816.1,347.9 L816.2,352.6 L816.4,356.4 L816.5,355.8 L816.7,357.8 L816.8,361.5 L817.0,362.5 L817.1,365.0 L817.3,367.4 L817.4,370.3 L817.6,371.7 L817.7,374.5 L817.9,376.4 L818.0,378.0 L818.2,380.7 L818.3,382.4 L818.5,385.4 L818.6,386.7 L818.8,388.9 L818.9,393.2 L819.1,394.2 L819.2,396.4 L819.4,399.1 L819.5,400.5 L819.7,402.9 L819.8,405.7 L820.0,407.8 L820.2,408.8 L820.3,412.6 L820.5,413.7 L820.6,415.6 L820.8,417.9 L821.0,420.5 L821.1,424.3 L821.3,424.3 L821.5,427.6 L821.6,428.0 L821.8,431.9 L822.0,434.8 L822.1,436.1 L822.3,438.0 L822.5,441.0 L822.6,443.5 L822.8,445.7 L823.0,449.0 L823.2,449.8 L823.3,451.4 L823.5,454.0 L823.7,456.2 L823.9,458.6 L824.0,460.7 L824.2,463.1 L824.4,463.8 L824.6,468.0 L824.8,469.1 L824.9,470.8 L825.1,474.5 L825.3,477.3 L825.5,478.8 L825.7,480.8 L825.9,482.1 L826.0,487.4 L826.2,488.0 L826.4,488.6 L826.6,491.1 L826.8,494.0 L827.0,494.9 L827.2,498.5 L827.3,500.2 L827.5,503.7 L827.7,505.8 L827.9,505.0 L828.1,509.4 L828.3,510.3 L828.5,514.7 L828.7,516.2 L828.9,518.7 L829.0,519.6 L829.2,524.2 L829.4,526.5 L829.6,526.3 L829.8,529.6 L830.0,531.0 L830.2,533.7 L830.4,535.0 L830.6,539.7 L830.8,539.6 L831.0,542.4 L831.1,545.2 L831.3,546.5 L831.5,549.1 L831.7,551.0 L831.9,553.6 L832.1,555.0 L832.3,557.8 L832.6,560.1 L832.8,562.3 L833.1,564.8 L833.3,566.7 L833.7,569.7 L834.0,571.1 L834.4,573.4 L834.8,575.2 L835.3,577.4 L835.9,579.0 L836.4,582.6 L837.1,583.4 L837.8,585.8 L838.6,588.8 L839.4,590.8 L840.3,592.2 L841.4,592.9 L842.5,596.7 L844.0,598.3 L846.0,597.7 L847.9,598.3 L849.2,595.4 L850.3,593.1 L851.3,592.0 L852.1,589.8 L852.9,588.0 L853.7,584.5 L854.4,585.1 L855.1,581.1 L855.8,578.2 L856.5,577.8 L857.2,574.9 L857.9,573.4 L858.6,570.7 L859.3,568.8 L860.0,567.0 L860.6,564.1 L861.3,563.1 L862.0,560.1 L862.7,557.6 L863.4,556.3 L864.0,554.4 L864.7,551.8 L865.4,549.1 L866.0,548.2 L866.7,544.2 L867.3,542.6 L868.0,541.4 L868.6,538.1 L869.3,537.1 L869.9,534.9 L870.5,533.6 L871.2,530.0 L871.8,528.1 L872.4,526.7 L873.0,522.3 L873.7,524.7 L874.3,519.5 L874.9,517.3 L875.5,516.5 L876.1,513.6 L876.7,510.1 L877.3,509.9 L877.9,507.9 L878.5,504.7 L879.1,502.7 L879.7,501.2 L880.3,497.9 L880.9,496.9 L881.5,494.5 L882.1,491.7 L882.7,489.0 L883.3,487.8 L883.9,485.1 L884.4,484.5 L885.0,481.6 L885.6,480.0 L886.2,477.3 L886.8,475.3 L887.4,472.3 L888.0,471.3 L888.5,470.1 L889.1,466.3 L889.7,463.9 L890.3,462.1 L890.9,459.7 L891.4,457.4 L892.0,455.9 L892.6,453.4 L893.2,452.7 L893.8,449.4 L894.4,447.5 L895.0,445.8 L895.5,442.7 L896.1,441.9 L896.7,438.2 L897.3,435.9 L897.9,434.1 L898.5,432.1 L899.1,429.0 L899.7,427.9 L900.3,424.5 L900.9,424.8 L901.5,421.5 L902.1,418.9 L902.7,416.5 L903.3,414.8 L903.9,412.8 L904.5,410.0 L905.1,408.0 L905.7,406.4 L906.4,404.0 L907.0,403.1 L907.6,401.1 L908.3,398.1 L908.9,396.3 L909.6,392.7 L910.2,392.2 L910.9,389.5 L911.6,387.8 L912.3,386.6 L913.0,381.4 L913.7,381.3 L914.4,378.1 L915.1,377.4 L915.9,373.8 L916.6,372.4 L917.4,370.8 L918.2,369.1 L919.0,366.6 L919.8,363.8 L920.7,361.9 L921.5,361.0 L922.4,358.3 L923.3,354.9 L924.2,354.9 L925.1,352.5 L926.0,350.9 L927.0,347.9 L928.0,346.9 L929.0,343.4 L930.0,342.7 L931.1,339.9 L932.2,338.9 L933.3,337.3 L934.4,334.0 L935.6,332.6 L936.8,330.8 L938.0,329.9 L939.2,327.6 L940.5,324.3 L941.8,323.8 L943.1,322.2 L944.5,321.6 L945.9,316.8 L947.3,316.0 L948.7,315.8 L950.2,312.0 L951.7,310.5 L953.2,310.3 L954.8,309.1 L956.4,306.2 L958.0,305.6 L959.7,303.8 L961.3,303.5 L963.1,300.8 L964.8,300.3 L966.6,297.4 L968.3,296.7 L970.2,295.5 L972.0,295.2 L973.9,293.6 L975.8,291.3 L977.7,291.3 L979.6,290.3 L981.6,288.6 L983.6,287.4 L985.6,286.5 L987.6,284.4 L989.6,285.0 L991.7,284.2 L993.7,282.5 L995.8,283.0" fill="none" stroke="#ff0a0a" stroke-width="4.2" stroke-linejoin="round" stroke-linecap="round"/>
<path d="M731.6,134.9 L733.2,131.7 L734.8,133.8 L736.3,133.0 L737.9,133.1 L739.5,133.2 L741.1,131.9 L742.7,133.2 L744.3,132.7 L745.8,135.6 L747.4,133.4 L749.0,132.9 L750.6,132.9 L752.2,132.6 L753.8,132.3 L755.3,132.8 L756.9,133.3 L758.5,132.8 L760.1,133.6 L761.7,132.8 L763.2,132.9 L764.8,133.9 L766.4,133.2 L768.0,132.4 L769.6,132.7 L771.2,133.2 L772.7,134.1 L774.3,132.6 L775.9,132.6 L777.5,133.5 L779.1,132.3 L780.6,132.8 L782.2,133.8 L783.8,133.8 L785.3,133.8 L786.9,134.6 L788.4,132.6 L789.8,135.9 L791.2,135.3 L792.5,135.7 L793.7,138.1 L794.8,139.6 L795.7,140.0 L796.5,140.9 L797.2,143.1 L797.8,144.5 L798.3,147.1 L798.8,148.1 L799.1,149.3 L799.4,151.5 L799.7,152.1 L799.9,153.2 L800.1,155.8 L800.3,157.4 L800.4,158.4 L800.5,159.6 L800.6,161.9 L800.7,161.5 L800.7,165.4 L800.8,166.8 L800.8,166.9 L800.9,169.7 L801.0,170.5 L801.0,173.3 L801.1,172.9 L801.2,175.3 L801.2,178.0 L801.3,179.9 L801.4,179.2 L801.4,181.9 L801.5,184.1 L801.6,185.0 L801.7,188.1 L801.7,187.8 L801.8,190.4 L801.9,191.0 L802.0,194.3 L802.1,194.9 L802.1,196.2 L802.2,196.9 L802.3,200.8 L802.4,201.8 L802.5,203.3 L802.6,205.2 L802.7,206.2 L802.8,207.1 L802.9,208.6 L803.0,210.1 L803.1,213.2 L803.2,212.8 L803.3,215.0 L803.4,216.8 L803.5,218.8 L803.6,220.6 L803.7,220.9 L803.8,222.1 L803.9,224.9 L804.0,227.3 L804.1,228.6 L804.2,229.8 L804.4,231.0 L804.5,233.0 L804.6,234.2 L804.7,236.5 L804.8,237.0 L805.0,239.2 L805.1,240.6 L805.2,242.7 L805.4,244.0 L805.5,247.2 L805.6,248.1 L805.7,249.6 L805.9,248.7 L806.0,251.5 L806.2,252.9 L806.3,255.3 L806.4,254.9 L806.6,258.9 L806.7,260.4 L806.9,260.3 L807.0,262.1 L807.2,263.8 L807.3,266.0 L807.5,268.0 L807.6,270.5 L807.8,270.5 L807.9,272.8 L808.1,273.9 L808.2,276.6 L808.4,277.5 L808.6,279.5 L808.7,279.3 L808.9,281.5 L809.0,282.7 L809.2,285.9 L809.4,286.9 L809.6,287.8 L809.7,289.2 L809.9,291.5 L810.1,292.2 L810.2,293.6 L810.4,296.2 L810.6,299.1 L810.8,298.8 L811.0,300.2 L811.1,301.3 L811.3,302.8 L811.5,305.6 L811.7,307.4 L811.9,308.4 L812.1,310.2 L812.3,311.6 L812.5,313.2 L812.7,313.6 L812.9,315.9 L813.1,317.9 L813.3,318.9 L813.5,320.6 L813.7,322.0 L813.9,323.9 L814.1,326.3 L814.3,327.0 L814.5,328.7 L814.7,331.0 L814.9,332.4 L815.1,334.7 L815.3,333.6 L815.5,337.3 L815.7,337.9 L816.0,339.9 L816.2,342.0 L816.4,343.7 L816.6,345.2 L816.8,346.2 L817.1,348.8 L817.3,349.0 L817.5,350.7 L817.7,352.9 L818.0,353.5 L818.2,357.0 L818.4,357.8 L818.6,360.1 L818.9,360.1 L819.1,361.5 L819.3,363.4 L819.6,365.4 L819.8,366.0 L820.1,368.3 L820.3,369.5 L820.5,372.3 L820.8,372.2 L821.0,375.0 L821.3,375.4 L821.5,376.7 L821.8,378.4 L822.0,379.7 L822.3,382.2 L822.5,384.4 L822.8,385.3 L823.0,387.2 L823.3,389.5 L823.5,390.1 L823.8,391.6 L824.0,392.8 L824.3,393.4 L824.5,396.7 L824.8,396.5 L825.1,399.7 L825.3,400.8 L825.6,403.2 L825.8,403.9 L826.1,404.9 L826.4,407.3 L826.6,408.2 L826.9,410.0 L827.2,411.8 L827.4,413.2 L827.7,414.7 L828.0,415.8 L828.2,417.8 L828.5,418.0 L828.8,421.0 L829.1,421.8 L829.3,425.0 L829.6,426.7 L829.9,426.0 L830.2,429.0 L830.5,430.3 L830.7,431.3 L831.0,433.9 L831.3,434.8 L831.6,435.4 L831.9,438.0 L832.2,439.7 L832.6,441.4 L833.0,442.0 L833.4,444.8 L833.9,446.4 L834.4,446.6 L835.0,448.4 L835.6,450.2 L836.4,451.3 L837.3,454.2 L838.4,454.3 L839.7,454.4 L841.1,455.3 L842.6,456.2 L844.1,458.0 L845.7,456.1 L847.3,456.1 L848.8,455.9 L850.2,454.9 L851.6,455.7 L852.9,452.8 L854.1,452.7 L855.2,451.1 L856.2,450.2 L857.1,447.7 L858.0,448.4 L858.8,445.7 L859.5,444.4 L860.2,442.3 L860.8,441.0 L861.5,440.5 L862.1,439.3 L862.7,437.7 L863.3,436.6 L864.0,434.8 L864.6,432.9 L865.3,432.0 L866.0,430.4 L866.7,428.5 L867.4,427.7 L868.2,426.7 L868.9,424.5 L869.7,422.7 L870.5,422.1 L871.2,421.6 L872.0,418.7 L872.8,417.4 L873.6,416.0 L874.4,415.6 L875.2,412.1 L876.0,412.2 L876.7,411.4 L877.5,408.6 L878.2,408.9 L879.0,406.8 L879.7,404.6 L880.4,403.7 L881.1,401.1 L881.8,400.4 L882.5,400.6 L883.2,397.3 L883.9,397.8 L884.6,395.0 L885.3,394.3 L885.9,392.2 L886.6,389.2 L887.2,388.9 L887.9,388.0 L888.5,385.6 L889.2,384.0 L889.8,383.8 L890.5,381.6 L891.1,379.5 L891.8,378.7 L892.4,378.4 L893.0,376.0 L893.7,375.5 L894.3,374.5 L895.0,372.0 L895.6,369.7 L896.3,368.2 L896.9,367.6 L897.6,366.8 L898.3,365.0 L898.9,363.7 L899.6,361.6 L900.3,360.7 L901.0,358.7 L901.7,357.4 L902.4,355.3 L903.1,353.7 L903.8,353.0 L904.5,351.2 L905.2,349.9 L906.0,349.6 L906.7,347.7 L907.5,348.4 L908.3,345.7 L909.1,343.2 L909.9,342.8 L910.7,341.2 L911.5,339.1 L912.3,339.0 L913.2,336.3 L914.0,333.4 L914.9,334.8 L915.8,332.5 L916.6,332.6 L917.5,329.8 L918.5,328.2 L919.4,328.8 L920.3,325.7 L921.3,325.3 L922.2,324.9 L923.2,322.7 L924.2,321.4 L925.2,320.2 L926.2,319.5 L927.2,317.2 L928.2,317.0 L929.2,315.7 L930.3,315.8 L931.4,312.8 L932.4,311.2 L933.5,311.2 L934.6,309.3 L935.7,308.6 L936.9,307.4 L938.0,307.0 L939.1,304.6 L940.3,304.0 L941.5,301.2 L942.6,301.3 L943.8,301.9 L945.0,299.4 L946.3,298.3 L947.5,297.0 L948.7,297.2 L950.0,296.0 L951.2,294.1 L952.5,294.4 L953.8,293.2 L955.1,292.7 L956.4,290.8 L957.7,291.6 L959.1,289.8 L960.4,288.6 L961.7,287.5 L963.1,286.9 L964.5,286.9 L965.9,285.3 L967.3,285.5 L968.7,284.4 L970.1,284.2 L971.5,283.2 L972.9,281.9 L974.4,279.9 L975.8,280.8 L977.3,280.6 L978.7,279.5 L980.2,279.2 L981.7,277.9 L983.2,277.5 L984.7,276.6 L986.2,277.7 L987.7,276.4 L989.2,275.5" fill="none" stroke="#0a0ad0" stroke-width="3.8" stroke-linejoin="round" stroke-linecap="round"/>
<path d="M731.6,132.9 L732.9,133.7 L734.2,135.6 L735.5,134.9 L736.8,133.0 L738.1,134.5 L739.4,134.0 L740.7,134.7 L742.0,133.1 L743.3,134.7 L744.6,134.7 L745.9,135.8 L747.3,134.6 L748.6,134.6 L749.9,132.7 L751.2,135.9 L752.5,132.0 L753.8,134.6 L755.1,133.1 L756.4,132.5 L757.7,132.5 L759.0,132.4 L760.3,133.2 L761.6,132.6 L762.9,133.9 L764.2,130.8 L765.5,132.3 L766.9,131.4 L768.2,132.7 L769.5,130.0 L770.8,131.6 L772.1,132.0 L773.4,130.4 L774.7,132.6 L776.0,131.9 L777.4,132.7 L778.7,132.7 L780.0,131.0 L781.3,131.3 L782.6,132.1 L783.9,133.1 L785.2,133.5 L786.4,132.5 L787.7,133.0 L788.9,133.4 L790.0,134.2 L791.1,135.2 L792.2,136.1 L793.1,138.9 L794.0,137.6 L794.8,138.8 L795.6,140.6 L796.3,140.4 L796.9,142.1 L797.4,143.7 L797.9,145.6 L798.3,144.9 L798.7,148.6 L799.1,148.3 L799.4,150.1 L799.7,152.0 L799.9,153.1 L800.2,154.7 L800.4,155.2 L800.6,156.4 L800.7,158.0 L800.9,158.1 L801.0,161.4 L801.2,160.9 L801.3,161.8 L801.4,166.1 L801.5,165.4 L801.6,165.8 L801.7,169.8 L801.8,169.2 L801.9,171.7 L802.0,171.3 L802.1,173.2 L802.2,173.2 L802.3,174.3 L802.4,176.4 L802.5,178.6 L802.6,180.7 L802.7,183.4 L802.8,181.6 L802.9,184.8 L803.0,184.6 L803.2,186.4 L803.3,186.5 L803.4,187.8 L803.5,189.7 L803.6,190.7 L803.7,193.0 L803.8,193.7 L804.0,196.8 L804.1,197.1 L804.2,198.4 L804.3,200.6 L804.5,201.4 L804.6,202.2 L804.7,203.4 L804.8,204.7 L805.0,207.1 L805.1,208.1 L805.2,209.1 L805.4,210.8 L805.5,210.9 L805.7,213.1 L805.8,212.7 L805.9,216.5 L806.1,216.7 L806.2,218.0 L806.4,219.7 L806.5,220.5 L806.7,221.6 L806.8,224.2 L807.0,224.5 L807.1,224.9 L807.3,227.4 L807.4,226.8 L807.6,231.1 L807.7,230.8 L807.9,232.3 L808.0,235.6 L808.2,236.8 L808.3,236.3 L808.5,238.0 L808.7,239.7 L808.8,241.6 L809.0,241.3 L809.2,242.8 L809.3,245.1 L809.5,245.5 L809.7,247.3 L809.8,248.4 L810.0,248.2 L810.2,249.7 L810.3,249.4 L810.5,252.9 L810.7,255.6 L810.9,254.7 L811.0,258.1 L811.2,259.2 L811.4,259.6 L811.6,260.9 L811.7,262.3 L811.9,262.7 L812.1,264.6 L812.3,266.1 L812.4,268.0 L812.6,269.4 L812.8,269.4 L813.0,272.1 L813.2,271.9 L813.4,273.8 L813.5,275.6 L813.7,276.5 L813.9,277.7 L814.1,279.4 L814.3,279.9 L814.5,281.2 L814.6,282.9 L814.8,285.2 L815.0,285.6 L815.2,288.7 L815.4,288.4 L815.6,286.9 L815.8,290.5 L815.9,293.7 L816.1,293.5 L816.3,294.4 L816.5,295.3 L816.7,298.5 L816.9,299.6 L817.1,300.6 L817.2,301.6 L817.4,303.9 L817.6,304.6 L817.8,304.1 L818.0,307.2 L818.2,307.9 L818.4,309.0 L818.5,311.1 L818.7,311.7 L818.9,310.3 L819.1,315.7 L819.3,316.5 L819.5,316.8 L819.7,317.8 L819.9,319.7 L820.0,319.6 L820.2,322.3 L820.4,323.2 L820.6,324.3 L820.8,325.1 L821.0,326.7 L821.2,329.6 L821.5,331.1 L821.7,331.6 L821.9,332.4 L822.1,333.0 L822.4,335.7 L822.6,337.8 L822.8,336.2 L823.1,340.0 L823.3,338.3 L823.6,341.2 L823.9,343.1 L824.2,342.8 L824.4,344.0 L824.7,346.8 L825.1,348.7 L825.4,348.7 L825.7,351.7 L826.0,351.0 L826.4,354.6 L826.7,354.4 L827.1,355.7 L827.5,357.3 L827.9,358.3 L828.3,360.9 L828.7,362.5 L829.1,362.3 L829.6,362.8 L830.0,363.2 L830.5,364.8 L831.0,366.7 L831.5,367.8 L832.0,369.1 L832.6,370.3 L833.1,371.9 L833.7,371.5 L834.3,372.9 L834.9,376.0 L835.5,376.9 L836.1,376.8 L836.8,379.6 L837.5,379.0 L838.2,380.5 L838.9,380.2 L839.6,383.6 L840.4,383.9 L841.2,385.9 L842.1,386.6 L843.1,386.9 L844.2,387.7 L845.4,389.1 L846.7,388.1 L848.0,388.0 L849.3,387.8 L850.5,388.0 L851.6,387.4 L852.7,387.6 L853.7,385.0 L854.8,385.4 L855.8,382.8 L856.7,383.1 L857.7,381.7 L858.6,382.3 L859.5,380.3 L860.5,378.4 L861.4,378.4 L862.2,377.2 L863.1,375.6 L864.0,374.7 L864.8,373.1 L865.7,375.4 L866.5,372.0 L867.3,371.7 L868.1,368.8 L868.9,367.8 L869.7,367.6 L870.4,366.5 L871.2,366.3 L871.9,363.6 L872.6,363.9 L873.4,363.6 L874.1,360.3 L874.8,360.9 L875.5,358.1 L876.2,358.1 L876.8,357.0 L877.5,357.1 L878.2,353.8 L878.8,353.5 L879.5,353.1 L880.1,350.0 L880.8,349.9 L881.4,347.9 L882.1,346.9 L882.7,347.0 L883.3,345.9 L884.0,346.4 L884.6,344.2 L885.2,343.0 L885.8,340.5 L886.5,339.2 L887.1,338.5 L887.7,335.1 L888.3,337.5 L889.0,334.3 L889.6,332.8 L890.2,332.2 L890.9,332.2 L891.5,331.4 L892.1,328.8 L892.8,328.4 L893.5,326.8 L894.1,324.8 L894.8,324.7 L895.5,323.5 L896.1,320.9 L896.8,322.2 L897.5,318.7 L898.2,319.2 L899.0,316.9 L899.7,316.0 L900.4,315.1 L901.2,315.2 L901.9,312.4 L902.7,312.3 L903.5,312.8 L904.3,309.7 L905.1,309.3 L905.9,308.9 L906.7,306.7 L907.6,306.7 L908.4,304.7 L909.3,304.9 L910.2,303.4 L911.1,301.5 L912.0,302.7 L912.9,300.4 L913.8,299.3 L914.8,297.8 L915.7,297.2 L916.6,296.6 L917.5,295.9 L918.4,295.8 L919.3,292.7 L920.2,292.6 L921.1,293.0 L922.0,291.1 L922.9,290.3 L923.7,290.4 L924.5,288.2 L925.3,287.3 L926.1,285.8 L926.9,286.4 L927.6,284.6 L928.4,282.0 L929.2,282.1 L929.9,279.5 L930.7,280.4 L931.6,279.0 L932.4,277.3 L933.3,276.1 L934.3,273.9 L935.3,275.4 L936.3,273.8 L937.4,272.9 L938.6,273.3 L939.8,271.5 L941.0,271.2 L942.3,270.7 L943.6,269.9 L944.9,273.1 L946.2,270.6 L947.5,270.4 L948.8,271.5 L950.2,267.8 L951.5,270.7 L952.8,270.8 L954.1,270.0 L955.4,271.5 L956.7,269.4 L958.0,271.4 L959.3,272.3 L960.6,269.7 L961.9,270.7 L963.2,272.0 L964.5,272.4 L965.8,272.0 L967.1,273.2 L968.4,273.3 L969.7,272.1 L970.9,273.4 L972.2,272.6 L973.5,272.1 L974.8,272.0 L976.1,275.3 L977.4,274.4 L978.7,276.4 L980.1,273.4 L981.4,274.5 L982.7,275.2 L984.0,274.7 L985.3,275.2 L986.6,274.7 L987.9,273.8" fill="none" stroke="#0f6840" stroke-width="4.2" stroke-linejoin="round" stroke-linecap="round"/>
<path d="M731.6,132.4 L732.3,132.2 L733.1,133.2 L733.8,133.9 L734.6,134.6 L735.3,133.9 L736.1,133.4 L736.8,133.3 L737.6,134.6 L738.3,135.4 L739.1,134.3 L739.8,133.1 L740.6,133.3 L741.4,135.4 L742.1,134.2 L742.9,132.6 L743.6,133.9 L744.4,133.0 L745.2,133.4 L745.9,133.4 L746.7,133.2 L747.4,134.1 L748.2,133.6 L748.9,133.1 L749.7,133.8 L750.4,134.0 L751.2,132.0 L752.0,133.0 L752.7,132.3 L753.5,132.9 L754.2,131.9 L755.0,132.8 L755.7,132.7 L756.5,132.4 L757.2,131.7 L758.0,132.1 L758.7,131.4 L759.5,131.1 L760.2,132.3 L761.0,131.1 L761.7,132.9 L762.5,132.4 L763.3,130.2 L764.0,131.9 L764.8,130.7 L765.5,131.5 L766.3,131.4 L767.0,129.7 L767.8,131.1 L768.5,131.0 L769.3,131.9 L770.1,130.1 L770.8,131.6 L771.6,130.1 L772.3,130.7 L773.1,130.2 L773.8,132.0 L774.6,131.3 L775.4,132.8 L776.1,131.4 L776.9,131.6 L777.6,131.6 L778.4,130.5 L779.2,130.9 L779.9,132.1 L780.7,130.8 L781.4,131.4 L782.2,131.3 L782.9,131.9 L783.7,131.3 L784.4,131.6 L785.1,132.1 L785.9,132.2 L786.6,131.7 L787.3,133.4 L788.0,131.9 L788.7,132.3 L789.4,132.6 L790.0,134.8 L790.7,134.1 L791.3,134.1 L791.9,134.4 L792.4,136.2 L793.0,135.5 L793.5,135.9 L794.0,137.9 L794.5,137.1 L795.0,138.4 L795.5,139.2 L795.9,139.5 L796.3,140.4 L796.7,142.2 L797.1,141.4 L797.5,141.4 L797.9,141.6 L798.2,143.6 L798.6,144.2 L798.9,145.3 L799.3,145.4 L799.6,146.1 L799.9,146.6 L800.3,147.4 L800.6,148.7 L800.9,148.9 L801.2,150.0 L801.5,152.1 L801.9,151.7 L802.2,150.7 L802.5,154.1 L802.8,153.6 L803.1,153.3 L803.4,155.5 L803.7,155.5 L804.0,155.7 L804.3,156.3 L804.6,156.8 L804.9,158.3 L805.2,159.8 L805.5,159.4 L805.8,160.7 L806.1,162.5 L806.4,160.8 L806.7,162.6 L807.0,162.9 L807.3,163.0 L807.6,163.7 L807.9,165.2 L808.2,166.2 L808.5,166.2 L808.8,167.3 L809.2,168.6 L809.5,168.9 L809.8,170.1 L810.1,170.4 L810.4,171.1 L810.8,172.9 L811.1,172.6 L811.4,172.9 L811.7,174.0 L812.1,173.4 L812.4,174.6 L812.8,176.1 L813.1,176.7 L813.5,178.1 L813.8,177.5 L814.2,177.0 L814.6,180.4 L814.9,180.4 L815.3,179.3 L815.7,181.9 L816.1,181.5 L816.5,180.7 L816.9,182.4 L817.3,183.0 L817.7,185.3 L818.1,184.1 L818.5,185.1 L819.0,185.7 L819.4,186.3 L819.9,186.4 L820.3,188.0 L820.8,189.2 L821.3,189.5 L821.7,188.8 L822.2,189.2 L822.7,190.8 L823.3,190.7 L823.8,191.3 L824.3,191.0 L824.8,194.4 L825.4,194.1 L826.0,193.1 L826.5,195.1 L827.1,196.0 L827.7,193.5 L828.3,195.4 L828.9,196.0 L829.6,197.2 L830.2,197.0 L830.9,197.3 L831.5,197.8 L832.2,199.7 L832.8,200.3 L833.5,198.5 L834.2,198.5 L834.9,201.7 L835.6,199.1 L836.3,199.7 L837.0,200.4 L837.7,201.1 L838.5,201.7 L839.2,201.5 L839.9,200.7 L840.6,202.0 L841.4,202.0 L842.1,203.4 L842.9,202.1 L843.6,201.2 L844.3,201.6 L845.1,203.7 L845.8,202.2 L846.6,201.1 L847.3,202.4 L848.1,203.0 L848.8,204.1 L849.6,202.4 L850.4,203.8 L851.1,204.0 L851.9,202.8 L852.6,203.3 L853.4,204.9 L854.1,204.9 L854.9,204.3 L855.7,203.9 L856.4,204.5 L857.2,203.5 L857.9,203.6 L858.7,203.0 L859.5,203.7 L860.2,203.6 L861.0,205.9 L861.7,203.5 L862.5,204.6 L863.2,204.7 L864.0,203.4 L864.8,204.5 L865.5,201.8 L866.3,203.6 L867.0,204.2 L867.8,201.5 L868.6,202.5 L869.3,204.2 L870.1,203.1 L870.8,202.4 L871.6,202.9 L872.3,202.7 L873.1,203.7 L873.9,203.4 L874.6,202.7 L875.4,202.4 L876.1,202.8 L876.9,203.8 L877.6,203.0 L878.4,203.2 L879.2,202.5 L879.9,201.5 L880.7,201.9 L881.4,202.9 L882.2,202.4 L882.9,201.5 L883.7,200.9 L884.5,202.2 L885.2,201.8 L886.0,201.7 L886.7,201.7 L887.5,202.1 L888.2,202.1 L889.0,202.5 L889.7,202.4 L890.5,202.7 L891.3,202.2 L892.0,201.3 L892.8,201.4 L893.5,201.8 L894.3,201.1 L895.0,201.7 L895.8,202.2 L896.6,200.6 L897.3,199.7 L898.1,202.1 L898.8,201.1 L899.6,201.6 L900.4,199.9 L901.1,202.3 L901.9,201.5 L902.6,200.7 L903.4,200.5 L904.1,200.8 L904.9,200.6 L905.7,200.4 L906.4,199.7 L907.2,201.6 L907.9,200.5 L908.7,200.5 L909.4,200.5 L910.2,198.5 L911.0,200.8 L911.7,200.1 L912.5,200.1 L913.2,200.3 L914.0,199.5 L914.8,200.9 L915.5,199.6 L916.3,199.4 L917.0,199.4 L917.8,200.2 L918.6,200.7 L919.3,199.6 L920.1,198.8 L920.8,200.9 L921.6,199.1 L922.3,200.9 L923.1,199.9 L923.9,199.4 L924.6,199.4 L925.4,200.3 L926.1,200.6 L926.9,199.7 L927.7,200.6 L928.4,201.5 L929.2,199.6 L929.9,198.9 L930.7,198.9 L931.5,198.7 L932.2,199.3 L933.0,199.2 L933.7,198.7 L934.5,200.2 L935.3,197.6 L936.0,198.7 L936.8,201.3 L937.5,200.6 L938.3,200.1 L939.0,200.1 L939.8,201.1 L940.6,200.2 L941.3,199.8 L942.1,198.7 L942.8,199.7 L943.6,199.1 L944.4,199.2 L945.1,199.2 L945.9,199.7 L946.6,199.5 L947.4,200.5 L948.2,198.7 L948.9,199.6 L949.7,201.3 L950.4,199.8 L951.2,200.8 L952.0,200.7 L952.7,200.9 L953.5,200.5 L954.2,198.8 L955.0,199.7 L955.7,199.6 L956.5,198.7 L957.3,199.6 L958.0,199.0 L958.8,198.7 L959.5,200.2 L960.3,200.0 L961.1,199.5 L961.8,199.3 L962.6,199.7 L963.3,199.8 L964.1,199.8 L964.9,200.1 L965.6,199.9 L966.4,200.5 L967.1,200.7 L967.9,200.6 L968.6,199.8 L969.4,199.9 L970.2,200.7 L970.9,200.2 L971.7,200.4 L972.4,198.5 L973.2,198.3 L974.0,200.8 L974.7,200.8 L975.5,201.7 L976.2,201.2 L977.0,200.9 L977.8,200.7 L978.5,199.6 L979.3,201.5 L980.0,200.3 L980.8,201.3 L981.5,201.1 L982.3,201.2 L983.1,201.7 L983.8,200.6 L984.6,200.8 L985.3,200.4 L986.1,200.9 L986.8,202.5 L987.6,201.0 L988.4,202.2 L989.1,202.0 L989.9,202.0 L990.6,202.1 L991.4,200.7 L992.2,201.8 L992.9,202.8 L993.7,201.0 L994.4,201.6 L995.2,201.2 L995.9,202.0 L996.7,200.9" fill="none" stroke="#000" stroke-width="3.8" stroke-linejoin="round" stroke-linecap="round"/>
<path d="M131.8,814.8 H144 V1208.5 H514.7 V1219" fill="none" stroke="#000" stroke-width="3"/>
<line x1="131.8" y1="892.5" x2="144" y2="892.5" stroke="#000" stroke-width="3"/>
<line x1="131.8" y1="972" x2="144" y2="972" stroke="#000" stroke-width="3"/>
<line x1="131.8" y1="1051" x2="144" y2="1051" stroke="#000" stroke-width="3"/>
<line x1="131.8" y1="1129.8" x2="144" y2="1129.8" stroke="#000" stroke-width="3"/>
<line x1="131.8" y1="1208.5" x2="144" y2="1208.5" stroke="#000" stroke-width="3"/>
<line x1="160" y1="1208.5" x2="160" y2="1219.5" stroke="#000" stroke-width="3"/>
<line x1="278.3" y1="1208.5" x2="278.3" y2="1219.5" stroke="#000" stroke-width="3"/>
<line x1="396" y1="1208.5" x2="396" y2="1219.5" stroke="#000" stroke-width="3"/>
<line x1="514.7" y1="1208.5" x2="514.7" y2="1219.5" stroke="#000" stroke-width="3"/>
<text transform="translate(70.8,906) scale(0.9696,1)" font-size="36.52" fill="#000">100</text>
<text transform="translate(85.46,1063.5) scale(1.0096,1)" font-size="35.66" fill="#000">50</text>
<text transform="translate(100.68,1221.2) scale(1.1044,1)" font-size="35.23" fill="#000">0</text>
<text transform="translate(128.18,1262) scale(1.0053,1)" font-size="36.34" fill="#000">-5.0</text>
<text transform="translate(364.9,1262) scale(0.9902,1)" font-size="36.34" fill="#000">-4.0</text>
<text transform="translate(184.4,1313.2) scale(0.9839,1)" font-size="40.39" fill="#000">Suramin (M)</text>
<text transform="translate(44.4,1187.23) rotate(-90) scale(0.8993,1)" font-size="43.75" fill="#000">Relative current %</text>
<rect x="199" y="767.5" width="16" height="15" fill="#000"/>
<path d="M199,828.2 L207.1,813.4 L215.2,828.2 Z" fill="#000"/>
<text transform="translate(243.26,786.5) scale(0.9685,1)" font-size="37.06" fill="#000">Fast component</text>
<text transform="translate(244.59,830.9) scale(0.9586,1)" font-size="37.09" fill="#000">Slow component</text>
<path d="M160.0,890.9 L162.8,891.0 L165.6,891.1 L168.3,891.2 L171.1,891.3 L173.9,891.4 L176.7,891.5 L179.5,891.7 L182.2,891.8 L185.0,891.9 L187.8,892.1 L190.6,892.2 L193.4,892.4 L196.1,892.6 L198.9,892.8 L201.7,893.0 L204.5,893.2 L207.3,893.4 L210.0,893.6 L212.8,893.9 L215.6,894.1 L218.4,894.4 L221.2,894.7 L223.9,895.0 L226.7,895.3 L229.5,895.7 L232.3,896.1 L235.1,896.4 L237.8,896.9 L240.6,897.3 L243.4,897.7 L246.2,898.2 L249.0,898.7 L251.7,899.3 L254.5,899.8 L257.3,900.4 L260.1,901.1 L262.9,901.7 L265.6,902.4 L268.4,903.2 L271.2,903.9 L274.0,904.8 L276.8,905.6 L279.5,906.5 L282.3,907.4 L285.1,908.4 L287.9,909.5 L290.7,910.5 L293.4,911.7 L296.2,912.9 L299.0,914.1 L301.8,915.4 L304.6,916.7 L307.3,918.1 L310.1,919.6 L312.9,921.1 L315.7,922.7 L318.5,924.3 L321.2,926.0 L324.0,927.8 L326.8,929.6 L329.6,931.4 L332.3,933.4 L335.1,935.4 L337.9,937.4 L340.7,939.5 L343.5,941.7 L346.2,943.9 L349.0,946.1 L351.8,948.4 L354.6,950.8 L357.4,953.1 L360.1,955.6 L362.9,958.0 L365.7,960.5 L368.5,963.0 L371.3,965.6 L374.0,968.1 L376.8,970.7 L379.6,973.3 L382.4,975.9 L385.2,978.5 L387.9,981.1 L390.7,983.6 L393.5,986.2 L396.3,988.7 L399.1,991.3 L401.8,993.8 L404.6,996.2 L407.4,998.7 L410.2,1001.1 L413.0,1003.4 L415.7,1005.7 L418.5,1008.0 L421.3,1010.2 L424.1,1012.3 L426.9,1014.5 L429.6,1016.5 L432.4,1018.5 L435.2,1020.4 L438.0,1022.3 L440.8,1024.1 L443.5,1025.9 L446.3,1027.6 L449.1,1029.2 L451.9,1030.8 L454.7,1032.4 L457.4,1033.8 L460.2,1035.2 L463.0,1036.6 L465.8,1037.9 L468.6,1039.1 L471.3,1040.3 L474.1,1041.5 L476.9,1042.5 L479.7,1043.6 L482.5,1044.6 L485.2,1045.5 L488.0,1046.4 L490.8,1047.3" fill="none" stroke="#231f1f" stroke-width="3"/>
<path d="M160.0,892.0 L162.8,892.0 L165.6,892.0 L168.3,892.0 L171.1,892.1 L173.9,892.1 L176.7,892.2 L179.5,892.2 L182.2,892.3 L185.0,892.3 L187.8,892.4 L190.6,892.5 L193.4,892.5 L196.1,892.6 L198.9,892.7 L201.7,892.8 L204.5,892.9 L207.3,893.1 L210.0,893.2 L212.8,893.3 L215.6,893.5 L218.4,893.7 L221.2,893.8 L223.9,894.1 L226.7,894.3 L229.5,894.5 L232.3,894.8 L235.1,895.1 L237.8,895.4 L240.6,895.8 L243.4,896.1 L246.2,896.6 L249.0,897.0 L251.7,897.5 L254.5,898.0 L257.3,898.6 L260.1,899.3 L262.9,900.0 L265.6,900.7 L268.4,901.5 L271.2,902.4 L274.0,903.4 L276.8,904.4 L279.5,905.6 L282.3,906.8 L285.1,908.1 L287.9,909.5 L290.7,911.0 L293.4,912.7 L296.2,914.5 L299.0,916.3 L301.8,918.4 L304.6,920.5 L307.3,922.8 L310.1,925.2 L312.9,927.8 L315.7,930.6 L318.5,933.5 L321.2,936.5 L324.0,939.7 L326.8,943.0 L329.6,946.5 L332.3,950.1 L335.1,953.8 L337.9,957.6 L340.7,961.6 L343.5,965.6 L346.2,969.8 L349.0,973.9 L351.8,978.2 L354.6,982.4 L357.4,986.7 L360.1,991.0 L362.9,995.2 L365.7,999.5 L368.5,1003.6 L371.3,1007.7 L374.0,1011.7 L376.8,1015.6 L379.6,1019.4 L382.4,1023.1 L385.2,1026.6 L387.9,1030.0 L390.7,1033.2 L393.5,1036.4 L396.3,1039.3 L399.1,1042.1 L401.8,1044.8 L404.6,1047.3 L407.4,1049.7 L410.2,1051.9 L413.0,1054.0 L415.7,1055.9 L418.5,1057.8 L421.3,1059.5 L424.1,1061.1 L426.9,1062.5 L429.6,1063.9 L432.4,1065.2 L435.2,1066.3 L438.0,1067.4 L440.8,1068.4 L443.5,1069.4 L446.3,1070.2 L449.1,1071.0 L451.9,1071.7 L454.7,1072.4 L457.4,1073.0 L460.2,1073.6 L463.0,1074.1 L465.8,1074.6 L468.6,1075.0 L471.3,1075.4 L474.1,1075.8 L476.9,1076.1 L479.7,1076.4 L482.5,1076.7 L485.2,1076.9 L488.0,1077.2 L490.8,1077.4" fill="none" stroke="#231f1f" stroke-width="3"/>
<rect x="153" y="886" width="15" height="15" fill="#000"/>
<path d="M223.9,899.62 L231.4,885.38 L238.9,899.62 Z" fill="#000"/>
<rect x="223.9" y="887" width="15" height="15" fill="#000"/>
<path d="M317.7,905.2 H332.7 M325.2,905.2 V959.8 M317.7,959.8 H332.7" fill="none" stroke="#000" stroke-width="3"/>
<path d="M317.7,926.8 H332.7 M325.2,926.8 V965 M317.7,965 H332.7" fill="none" stroke="#000" stroke-width="3"/>
<path d="M318.2,938.65 L325.2,925.35 L332.2,938.65 Z" fill="#000"/>
<rect x="317.7" y="934.5" width="15" height="15" fill="#000"/>
<path d="M389,976.3 H404 M396.5,976.3 V999.7 M389,999.7 H404" fill="none" stroke="#000" stroke-width="3"/>
<path d="M390,996.17 L396.5,983.83 L403,996.17 Z" fill="#000"/>
<path d="M389,1022.3 H404 M396.5,1022.3 V1056.1 M389,1056.1 H404" fill="none" stroke="#000" stroke-width="3"/>
<rect x="389" y="1032" width="15" height="15" fill="#000"/>
<path d="M483.5,1036.1 H498.5 M491,1036.1 V1058.7 M483.5,1058.7 H498.5" fill="none" stroke="#000" stroke-width="3"/>
<path d="M484,1055.65 L491,1042.35 L498,1055.65 Z" fill="#000"/>
<path d="M483.5,1058.7 H498.5 M491,1058.7 V1096 M483.5,1096 H498.5" fill="none" stroke="#000" stroke-width="3"/>
<rect x="483.5" y="1069.9" width="15" height="15" fill="#000"/>
<path d="M748.5,829.1 H758.7 V1210.8 H1189.4 V1221.5" fill="none" stroke="#000" stroke-width="3.4"/>
<line x1="748.5" y1="905" x2="758.7" y2="905" stroke="#000" stroke-width="3.2"/>
<line x1="748.5" y1="981.5" x2="758.7" y2="981.5" stroke="#000" stroke-width="3.2"/>
<line x1="748.5" y1="1057.5" x2="758.7" y2="1057.5" stroke="#000" stroke-width="3.2"/>
<line x1="748.5" y1="1134.3" x2="758.7" y2="1134.3" stroke="#000" stroke-width="3.2"/>
<line x1="748.5" y1="1210.8" x2="758.7" y2="1210.8" stroke="#000" stroke-width="3.2"/>
<line x1="758.7" y1="1210.8" x2="758.7" y2="1221.5" stroke="#000" stroke-width="3.2"/>
<line x1="902.3" y1="1210.8" x2="902.3" y2="1221.5" stroke="#000" stroke-width="3.2"/>
<line x1="1046" y1="1210.8" x2="1046" y2="1221.5" stroke="#000" stroke-width="3.2"/>
<line x1="1189.4" y1="1210.8" x2="1189.4" y2="1221.5" stroke="#000" stroke-width="3.2"/>
<text transform="translate(688.64,915.4) scale(0.9610,1)" font-size="36.38" fill="#000">100</text>
<text transform="translate(703.03,1069.3) scale(0.9992,1)" font-size="36.81" fill="#000">50</text>
<text transform="translate(717.5,1222.6) scale(1.0297,1)" font-size="37.38" fill="#000">0</text>
<text transform="translate(731.6,1260.7) scale(0.9863,1)" font-size="36.48" fill="#000">-5.0</text>
<text transform="translate(1013.27,1261) scale(0.9812,1)" font-size="37.36" fill="#000">-4.0</text>
<text transform="translate(882.13,1313.6) scale(0.9682,1)" font-size="41.13" fill="#000">PPDADS (M)</text>
<text transform="translate(665.7,1190.14) rotate(-90) scale(0.8574,1)" font-size="46.08" fill="#000">Relative current %</text>
<rect x="908.5" y="776.8" width="17.9" height="14.9" fill="#000"/>
<path d="M907,835.1 L916,820.1 L925,835.1 Z" fill="#000"/>
<text transform="translate(943.85,793.2) scale(1.0354,1)" font-size="34.74" fill="#000">Fast component</text>
<text transform="translate(942.77,836.6) scale(1.0468,1)" font-size="34.23" fill="#000">Slow component</text>
<path d="M759.5,883.2 L760.8,883.3 L762.2,883.3 L763.5,883.4 L764.9,883.5 L766.2,883.5 L767.6,883.6 L768.9,883.6 L770.3,883.7 L771.6,883.7 L773.0,883.8 L774.3,883.9 L775.7,883.9 L777.0,884.0 L778.3,884.0 L779.7,884.1 L781.0,884.2 L782.4,884.2 L783.7,884.3 L785.1,884.4 L786.4,884.5 L787.8,884.5 L789.1,884.6 L790.5,884.7 L791.8,884.7 L793.2,884.8 L794.5,884.9 L795.8,885.0 L797.2,885.1 L798.5,885.1 L799.9,885.2 L801.2,885.3 L802.6,885.4 L803.9,885.5 L805.3,885.6 L806.6,885.7 L808.0,885.7 L809.3,885.8 L810.7,885.9 L812.0,886.0 L813.3,886.1 L814.7,886.2 L816.0,886.3 L817.4,886.4 L818.7,886.5 L820.1,886.6 L821.4,886.7 L822.8,886.8 L824.1,886.9 L825.5,887.0 L826.8,887.1 L828.2,887.2 L829.5,887.4 L830.8,887.5 L832.2,887.6 L833.5,887.7 L834.9,887.8 L836.2,887.9 L837.6,888.0 L838.9,888.2 L840.3,888.3 L841.6,888.4 L843.0,888.5 L844.3,888.6 L845.7,888.8 L847.0,888.9 L848.3,889.0 L849.7,889.1 L851.0,889.3 L852.4,889.4 L853.7,889.5 L855.1,889.7 L856.4,889.8 L857.8,889.9 L859.1,890.1 L860.5,890.2 L861.8,890.4 L863.2,890.5 L864.5,890.6 L865.8,890.8 L867.2,890.9 L868.5,891.1 L869.9,891.2 L871.2,891.4 L872.6,891.5 L873.9,891.7 L875.3,891.8 L876.6,892.0 L878.0,892.2 L879.3,892.3 L880.7,892.5 L882.0,892.6 L883.3,892.8 L884.7,893.0 L886.0,893.1 L887.4,893.3 L888.7,893.5 L890.1,893.6 L891.4,893.8 L892.8,894.0 L894.1,894.1 L895.5,894.3 L896.8,894.5 L898.2,894.7 L899.5,894.8 L900.8,895.0 L902.2,895.2 L903.5,895.4 L904.9,895.6 L906.2,895.8 L907.6,895.9 L908.9,896.1 L910.3,896.3 L911.6,896.5 L913.0,896.7 L914.3,896.9 L915.7,897.1 L917.0,897.3 L918.3,897.5 L919.7,897.7 L921.0,897.9 L922.4,898.1 L923.7,898.3 L925.1,898.5 L926.4,898.7 L927.8,898.9 L929.1,899.1 L930.5,899.4 L931.8,899.6 L933.2,899.8 L934.5,900.0 L935.8,900.2 L937.2,900.4 L938.5,900.7 L939.9,900.9 L941.2,901.1 L942.6,901.3 L943.9,901.6 L945.3,901.8 L946.6,902.0 L948.0,902.2 L949.3,902.5 L950.7,902.7 L952.0,902.9 L953.3,903.2 L954.7,903.4 L956.0,903.7 L957.4,903.9 L958.7,904.2 L960.1,904.4 L961.4,904.6 L962.8,904.9 L964.1,905.1 L965.5,905.4 L966.8,905.7 L968.2,905.9 L969.5,906.2 L970.8,906.4 L972.2,906.7 L973.5,906.9 L974.9,907.2 L976.2,907.5 L977.6,907.7 L978.9,908.0 L980.3,908.3 L981.6,908.5 L983.0,908.8 L984.3,909.1 L985.7,909.4 L987.0,909.6 L988.3,909.9 L989.7,910.2 L991.0,910.5 L992.4,910.8 L993.7,911.1 L995.1,911.3 L996.4,911.6 L997.8,911.9 L999.1,912.2 L1000.5,912.5 L1001.8,912.8 L1003.2,913.1 L1004.5,913.4 L1005.8,913.7 L1007.2,914.0 L1008.5,914.3 L1009.9,914.6 L1011.2,914.9 L1012.6,915.2 L1013.9,915.5 L1015.3,915.8 L1016.6,916.2 L1018.0,916.5 L1019.3,916.8 L1020.7,917.1 L1022.0,917.4 L1023.3,917.8 L1024.7,918.1 L1026.0,918.4 L1027.4,918.7 L1028.7,919.1 L1030.1,919.4 L1031.4,919.7 L1032.8,920.1 L1034.1,920.4 L1035.5,920.7 L1036.8,921.1 L1038.2,921.4 L1039.5,921.8 L1040.8,922.1 L1042.2,922.4 L1043.5,922.8 L1044.9,923.1 L1046.2,923.5 L1047.6,923.8 L1048.9,924.2 L1050.3,924.6 L1051.6,924.9 L1053.0,925.3 L1054.3,925.6 L1055.7,926.0 L1057.0,926.4 L1058.3,926.7 L1059.7,927.1 L1061.0,927.5 L1062.4,927.9 L1063.7,928.2 L1065.1,928.6 L1066.4,929.0 L1067.8,929.4 L1069.1,929.7 L1070.5,930.1 L1071.8,930.5 L1073.2,930.9 L1074.5,931.3 L1075.8,931.7 L1077.2,932.1 L1078.5,932.5 L1079.9,932.9 L1081.2,933.3 L1082.6,933.7 L1083.9,934.1 L1085.3,934.5 L1086.6,934.9 L1088.0,935.3 L1089.3,935.7 L1090.7,936.1 L1092.0,936.5 L1093.3,936.9 L1094.7,937.4 L1096.0,937.8 L1097.4,938.2 L1098.7,938.6 L1100.1,939.0 L1101.4,939.5 L1102.8,939.9 L1104.1,940.3 L1105.5,940.8 L1106.8,941.2 L1108.2,941.6 L1109.5,942.1 L1110.8,942.5 L1112.2,942.9 L1113.5,943.4 L1114.9,943.8 L1116.2,944.3 L1117.6,944.7 L1118.9,945.2 L1120.3,945.6 L1121.6,946.1 L1123.0,946.6 L1124.3,947.0 L1125.7,947.5 L1127.0,947.9 L1128.3,948.4 L1129.7,948.9 L1131.0,949.3 L1132.4,949.8 L1133.7,950.3 L1135.1,950.8 L1136.4,951.2 L1137.8,951.7 L1139.1,952.2 L1140.5,952.7 L1141.8,953.2 L1143.2,953.6 L1144.5,954.1 L1145.8,954.6 L1147.2,955.1 L1148.5,955.6 L1149.9,956.1 L1151.2,956.6 L1152.6,957.1 L1153.9,957.6 L1155.3,958.1 L1156.6,958.6 L1158.0,959.1 L1159.3,959.6 L1160.7,960.2 L1162.0,960.7 " fill="none" stroke="#231f1f" stroke-width="3"/>
<path d="M760.0,910.0 L761.3,910.3 L762.7,910.6 L764.0,910.9 L765.4,911.2 L766.7,911.5 L768.1,911.8 L769.4,912.1 L770.8,912.4 L772.1,912.8 L773.4,913.1 L774.8,913.4 L776.1,913.7 L777.5,914.1 L778.8,914.4 L780.2,914.8 L781.5,915.1 L782.9,915.4 L784.2,915.8 L785.5,916.1 L786.9,916.5 L788.2,916.8 L789.6,917.2 L790.9,917.5 L792.3,917.9 L793.6,918.3 L795.0,918.6 L796.3,919.0 L797.6,919.4 L799.0,919.7 L800.3,920.1 L801.7,920.5 L803.0,920.9 L804.4,921.3 L805.7,921.6 L807.1,922.0 L808.4,922.4 L809.7,922.8 L811.1,923.2 L812.4,923.6 L813.8,924.0 L815.1,924.4 L816.5,924.8 L817.8,925.2 L819.2,925.7 L820.5,926.1 L821.8,926.5 L823.2,926.9 L824.5,927.4 L825.9,927.8 L827.2,928.2 L828.6,928.7 L829.9,929.1 L831.3,929.5 L832.6,930.0 L833.9,930.4 L835.3,930.9 L836.6,931.3 L838.0,931.8 L839.3,932.2 L840.7,932.7 L842.0,933.2 L843.4,933.6 L844.7,934.1 L846.0,934.6 L847.4,935.1 L848.7,935.6 L850.1,936.0 L851.4,936.5 L852.8,937.0 L854.1,937.5 L855.5,938.0 L856.8,938.5 L858.1,939.0 L859.5,939.5 L860.8,940.0 L862.2,940.6 L863.5,941.1 L864.9,941.6 L866.2,942.1 L867.6,942.6 L868.9,943.2 L870.2,943.7 L871.6,944.2 L872.9,944.8 L874.3,945.3 L875.6,945.9 L877.0,946.4 L878.3,947.0 L879.7,947.6 L881.0,948.1 L882.3,948.7 L883.7,949.3 L885.0,949.8 L886.4,950.4 L887.7,951.0 L889.1,951.6 L890.4,952.2 L891.8,952.7 L893.1,953.3 L894.4,953.9 L895.8,954.5 L897.1,955.1 L898.5,955.8 L899.8,956.4 L901.2,957.0 L902.5,957.6 L903.9,958.2 L905.2,958.9 L906.5,959.5 L907.9,960.1 L909.2,960.8 L910.6,961.4 L911.9,962.1 L913.3,962.7 L914.6,963.4 L916.0,964.0 L917.3,964.7 L918.6,965.4 L920.0,966.0 L921.3,966.7 L922.7,967.4 L924.0,968.1 L925.4,968.7 L926.7,969.4 L928.1,970.1 L929.4,970.8 L930.7,971.5 L932.1,972.2 L933.4,972.9 L934.8,973.7 L936.1,974.4 L937.5,975.1 L938.8,975.8 L940.2,976.6 L941.5,977.3 L942.8,978.0 L944.2,978.8 L945.5,979.5 L946.9,980.3 L948.2,981.0 L949.6,981.8 L950.9,982.6 L952.3,983.3 L953.6,984.1 L954.9,984.9 L956.3,985.7 L957.6,986.4 L959.0,987.2 L960.3,988.0 L961.7,988.8 L963.0,989.6 L964.4,990.4 L965.7,991.3 L967.1,992.1 L968.4,992.9 L969.7,993.7 L971.1,994.5 L972.4,995.4 L973.8,996.2 L975.1,997.1 L976.5,997.9 L977.8,998.8 L979.2,999.6 L980.5,1000.5 L981.8,1001.3 L983.2,1002.2 L984.5,1003.1 L985.9,1004.0 L987.2,1004.9 L988.6,1005.7 L989.9,1006.6 L991.3,1007.5 L992.6,1008.4 L993.9,1009.3 L995.3,1010.3 L996.6,1011.2 L998.0,1012.1 L999.3,1013.0 L1000.7,1013.9 L1002.0,1014.9 L1003.4,1015.8 L1004.7,1016.8 L1006.0,1017.7 L1007.4,1018.7 L1008.7,1019.6 L1010.1,1020.6 L1011.4,1021.6 L1012.8,1022.5 L1014.1,1023.5 L1015.5,1024.5 L1016.8,1025.5 L1018.1,1026.5 L1019.5,1027.5 L1020.8,1028.5 L1022.2,1029.5 L1023.5,1030.5 L1024.9,1031.5 L1026.2,1032.5 L1027.6,1033.6 L1028.9,1034.6 L1030.2,1035.6 L1031.6,1036.7 L1032.9,1037.7 L1034.3,1038.8 L1035.6,1039.8 L1037.0,1040.9 L1038.3,1042.0 L1039.7,1043.1 L1041.0,1044.1 L1042.3,1045.2 L1043.7,1046.3 L1045.0,1047.4 L1046.4,1048.5 L1047.7,1049.6 L1049.1,1050.7 L1050.4,1051.8 L1051.8,1053.0 L1053.1,1054.1 L1054.4,1055.2 L1055.8,1056.3 L1057.1,1057.5 L1058.5,1058.6 L1059.8,1059.8 L1061.2,1060.9 L1062.5,1062.1 L1063.9,1063.3 M1073.3,1071.6 L1074.6,1072.8 L1076.0,1074.0 L1077.3,1075.3 L1078.6,1076.5 L1080.0,1077.7 L1081.3,1079.0 L1082.7,1080.2 L1084.0,1081.5 L1085.4,1082.7 L1086.7,1084.0 L1088.1,1085.2 L1089.4,1086.5 L1090.7,1087.8 L1092.1,1089.1 L1093.4,1090.4 L1094.8,1091.7 L1096.1,1093.0 L1097.5,1094.3 L1098.8,1095.6 L1100.2,1096.9 L1101.5,1098.2 L1102.8,1099.6 L1104.2,1100.9 L1105.5,1102.2 L1106.9,1103.6 L1108.2,1104.9 L1109.6,1106.3 L1110.9,1107.7 L1112.3,1109.0 L1113.6,1110.4 L1114.9,1111.8 L1116.3,1113.2 L1117.6,1114.6 L1119.0,1116.0 L1120.3,1117.4 L1121.7,1118.8 L1123.0,1120.2 L1124.4,1121.6 L1125.7,1123.1 L1127.0,1124.5 L1128.4,1126.0 L1129.7,1127.4 L1131.1,1128.9 L1132.4,1130.3 L1133.8,1131.8 L1135.1,1133.3 L1136.5,1134.7 L1137.8,1136.2 L1139.1,1137.7 L1140.5,1139.2 L1141.8,1140.7 L1143.2,1142.2 L1144.5,1143.7 L1145.9,1145.3 L1147.2,1146.8 L1148.6,1148.3 L1149.9,1149.9 L1151.2,1151.4 L1152.6,1153.0 L1153.9,1154.5 L1155.3,1156.1 L1156.6,1157.7 L1158.0,1159.3 L1159.3,1160.8 L1160.7,1162.4 L1162.0,1164.0 " fill="none" stroke="#231f1f" stroke-width="3"/>
<rect x="749.8" y="895.7" width="18" height="18" fill="#000"/>
<path d="M837.3,844.7 H852.3 M844.8,844.7 V872.8 M837.3,872.8 H852.3" fill="none" stroke="#000" stroke-width="3"/>
<path d="M837.3,865.92 L844.8,851.67 L852.3,865.92 Z" fill="#000"/>
<path d="M837.6,913.7 H852.6 M845.1,913.7 V956.7 M837.6,956.7 H852.6" fill="none" stroke="#000" stroke-width="3"/>
<rect x="837.6" y="928" width="15" height="15" fill="#000"/>
<path d="M951.7,882.8 H966.7 M959.2,882.8 V933.1 M951.7,933.1 H966.7" fill="none" stroke="#000" stroke-width="3"/>
<path d="M951.7,917.12 L959.2,902.88 L966.7,917.12 Z" fill="#000"/>
<path d="M951.7,959.1 H966.7 M959.2,959.1 V1017.5 M951.7,1017.5 H966.7" fill="none" stroke="#000" stroke-width="3"/>
<rect x="951.7" y="981.8" width="15" height="15" fill="#000"/>
<path d="M1038.5,902.2 H1053.5 M1046,902.2 V947.9 M1038.5,947.9 H1053.5" fill="none" stroke="#000" stroke-width="3"/>
<path d="M1038.5,934.12 L1046,919.88 L1053.5,934.12 Z" fill="#000"/>
<path d="M1038.5,1014.7 H1053.5 M1046,1014.7 V1070.9 M1038.5,1070.9 H1053.5" fill="none" stroke="#000" stroke-width="3"/>
<rect x="1038.5" y="1035.3" width="15" height="15" fill="#000"/>
<path d="M1153.5,935.6 H1168.5 M1161,935.6 V980.1 M1153.5,980.1 H1168.5" fill="none" stroke="#000" stroke-width="3"/>
<path d="M1153.5,967.62 L1161,953.38 L1168.5,967.62 Z" fill="#000"/>
<path d="M1153.5,1136.6 H1168.5 M1161,1136.6 V1186.2 M1153.5,1186.2 H1168.5" fill="none" stroke="#000" stroke-width="3"/>
<rect x="1153.5" y="1154.1" width="15" height="15" fill="#000"/>
<line x1="677.7" y1="724.5" x2="677.7" y2="735" stroke="#bbb" stroke-width="1.2"/>
<text transform="translate(1394,270.6) scale(0.9737,1)" font-size="51.31" fill="#000">Antagonist Responses</text>
<text transform="translate(1529.14,331.3) scale(1.0452,1)" font-size="47.69" fill="#000">Summary</text>
<path d="M1448.8,489.6 H1477.8 V1225 H1997" fill="none" stroke="#111" stroke-width="2"/>
<line x1="1444.5" y1="676.6" x2="1475.5" y2="676.6" stroke="#111" stroke-width="2"/>
<line x1="1446" y1="859.6" x2="1477" y2="859.6" stroke="#111" stroke-width="2"/>
<line x1="1447" y1="1044.5" x2="1477" y2="1044.5" stroke="#111" stroke-width="2"/>
<text transform="translate(1383.25,505.1) scale(0.7394,1)" font-size="43.54" fill="#000">100</text>
<text transform="translate(1395.79,690.4) scale(0.7453,1)" font-size="44.77" fill="#000">75</text>
<text transform="translate(1397.56,875) scale(0.7714,1)" font-size="43.54" fill="#000">50</text>
<text transform="translate(1400.38,1059.8) scale(0.6958,1)" font-size="43.54" fill="#000">25</text>
<text transform="translate(1351,1077.4) rotate(-90) scale(0.8950,1)" font-size="43.9" fill="#000">% of 250 µM ATP current</text>
<rect x="1547.6" y="478.5" width="83" height="746.5" fill="url(#gc)"/>
<rect x="1708" y="923.5" width="82.8" height="301.5" fill="#7f7f7f"/>
<rect x="1866.2" y="1096" width="82.4" height="129" fill="url(#gp)"/>
<path d="M1748.8,923.5 V880.4 M1738.1,880.4 H1759.7" fill="none" stroke="#111" stroke-width="2"/>
<path d="M1906.2,1096 V1082.4 M1895.8,1082.4 H1917.4" fill="none" stroke="#111" stroke-width="2"/>
<text transform="translate(1720.03,861.12) scale(1.0093,1)" font-size="41.3" fill="#000" stroke="#000" stroke-width="1.4" stroke-linejoin="round">*</text>
<text transform="translate(1739.93,861.12) scale(1.0093,1)" font-size="41.3" fill="#000" stroke="#000" stroke-width="1.4" stroke-linejoin="round">*</text>
<text transform="translate(1759.81,861.12) scale(1.0297,1)" font-size="41.3" fill="#000" stroke="#000" stroke-width="1.4" stroke-linejoin="round">*</text>
<text transform="translate(1875,1059.29) scale(1.0083,1)" font-size="43.01" fill="#000" stroke="#000" stroke-width="1.4" stroke-linejoin="round">*</text>
<text transform="translate(1894.72,1059.29) scale(0.9822,1)" font-size="43.01" fill="#000" stroke="#000" stroke-width="1.4" stroke-linejoin="round">*</text>
<text transform="translate(1913.98,1059.29) scale(1.0408,1)" font-size="43.01" fill="#000" stroke="#000" stroke-width="1.4" stroke-linejoin="round">*</text>
<text transform="translate(1503.57,1293.3) scale(0.9789,1)" font-size="40.82" fill="#000">Control</text>
<text transform="translate(1669.02,1293.3) scale(0.9608,1)" font-size="40.82" fill="#000">Suramin</text>
<text transform="translate(1841.04,1293.3) scale(0.9750,1)" font-size="40.7" fill="#000">PPDADS</text>
</svg></body></html>
